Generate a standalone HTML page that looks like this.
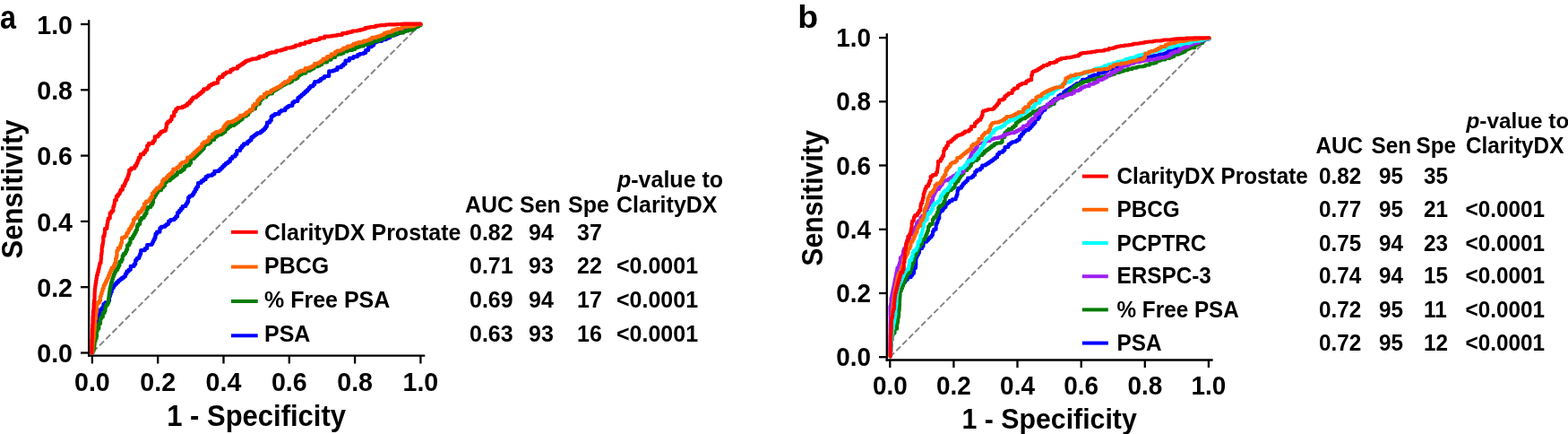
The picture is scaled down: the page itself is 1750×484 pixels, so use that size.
<!DOCTYPE html>
<html><head><meta charset="utf-8"><title>ROC curves</title>
<style>
html,body{margin:0;padding:0;background:#fff;}
svg{display:block;}
svg text{font-family:"Liberation Sans", Arial, Helvetica, sans-serif;font-weight:bold;fill:#000;}
</style></head>
<body>
<svg width="1750" height="484" viewBox="0 0 1750 484">
<rect width="1750" height="484" fill="#fff"/>
<g stroke="#000" stroke-width="2.3" fill="none">
<line x1="99.2" y1="22.2" x2="99.2" y2="397.84999999999997"/>
<line x1="98.05" y1="396.7" x2="474.3" y2="396.7"/>
<line x1="90" y1="393.5" x2="99.2" y2="393.5"/>
<line x1="102.9" y1="396.7" x2="102.9" y2="405.5"/>
<line x1="90" y1="320.2" x2="99.2" y2="320.2"/>
<line x1="176.2" y1="396.7" x2="176.2" y2="405.5"/>
<line x1="90" y1="246.9" x2="99.2" y2="246.9"/>
<line x1="249.5" y1="396.7" x2="249.5" y2="405.5"/>
<line x1="90" y1="173.6" x2="99.2" y2="173.6"/>
<line x1="322.8" y1="396.7" x2="322.8" y2="405.5"/>
<line x1="90" y1="100.3" x2="99.2" y2="100.3"/>
<line x1="396.1" y1="396.7" x2="396.1" y2="405.5"/>
<line x1="90" y1="27.0" x2="99.2" y2="27.0"/>
<line x1="469.4" y1="396.7" x2="469.4" y2="405.5"/>
</g>
<text font-size="28.6" text-anchor="end" transform="translate(81.00,404.20) scale(1.0,1.06)">0.0</text>
<text font-size="28.6" text-anchor="middle" transform="translate(102.90,436.40) scale(1.0,1.06)">0.0</text>
<text font-size="28.6" text-anchor="end" transform="translate(81.00,330.90) scale(1.0,1.06)">0.2</text>
<text font-size="28.6" text-anchor="middle" transform="translate(176.20,436.40) scale(1.0,1.06)">0.2</text>
<text font-size="28.6" text-anchor="end" transform="translate(81.00,257.60) scale(1.0,1.06)">0.4</text>
<text font-size="28.6" text-anchor="middle" transform="translate(249.50,436.40) scale(1.0,1.06)">0.4</text>
<text font-size="28.6" text-anchor="end" transform="translate(81.00,184.30) scale(1.0,1.06)">0.6</text>
<text font-size="28.6" text-anchor="middle" transform="translate(322.80,436.40) scale(1.0,1.06)">0.6</text>
<text font-size="28.6" text-anchor="end" transform="translate(81.00,111.00) scale(1.0,1.06)">0.8</text>
<text font-size="28.6" text-anchor="middle" transform="translate(396.10,436.40) scale(1.0,1.06)">0.8</text>
<text font-size="28.6" text-anchor="end" transform="translate(81.00,37.70) scale(1.0,1.06)">1.0</text>
<text font-size="28.6" text-anchor="middle" transform="translate(469.40,436.40) scale(1.0,1.06)">1.0</text>
<text font-size="31" text-anchor="middle" transform="translate(286.10,474.80) scale(1.0,1.06)">1 - Specificity</text>
<text font-size="31" text-anchor="middle" transform="translate(25.3,211) rotate(-90) scale(1,1.07)">Sensitivity</text>
<line x1="102.9" y1="393.5" x2="469.4" y2="27.0" stroke="#858585" stroke-width="2.0" stroke-dasharray="7 3.2" stroke-dashoffset="-1.3"/>
<polyline points="103.2,393.4 103.2,390.0 103.6,390.0 103.9,390.0 103.9,387.3 104.2,387.3 104.2,384.6 104.2,381.8 104.6,381.8 104.6,379.1 104.9,379.1 104.9,376.4 105.2,376.4 105.7,376.4 105.7,373.7 106.1,373.7 106.1,370.9 106.1,368.2 106.6,368.2 106.6,365.4 107.0,365.4 107.5,365.4 107.5,362.7 107.5,359.7 108.3,359.7 109.0,359.7 109.0,356.6 109.0,353.6 109.8,353.6 109.8,351.0 110.5,351.0 111.3,351.0 111.3,348.3 111.3,345.7 112.0,345.7 113.8,345.7 113.8,343.4 115.5,343.4 115.5,341.1 115.5,339.2 117.4,339.2 117.4,337.4 119.2,337.4 121.1,337.4 121.1,335.5 122.0,335.5 122.0,333.1 122.0,330.6 122.9,330.6 122.9,328.1 123.8,328.1 123.8,325.7 124.7,325.7 124.7,322.9 125.5,322.9 125.5,320.8 126.9,320.8 126.9,318.6 128.3,318.6 128.3,316.7 130.2,316.7 130.2,314.7 132.2,314.7 132.2,312.8 134.1,312.8 134.1,311.4 136.0,311.4 136.0,309.9 138.0,309.9 138.0,308.5 139.9,308.5 139.9,305.6 140.7,305.6 141.4,305.6 141.4,302.7 143.6,302.7 143.6,300.8 145.8,300.8 145.8,298.8 145.8,296.9 148.0,296.9 149.6,296.9 149.6,294.7 151.2,294.7 151.2,292.4 151.2,290.2 152.7,290.2 152.7,288.0 154.3,288.0 155.3,288.0 155.3,285.6 156.2,285.6 156.2,283.2 157.2,283.2 157.2,280.8 157.2,279.2 159.5,279.2 161.8,279.2 161.8,277.1 164.2,277.1 164.2,275.1 164.2,273.0 166.5,273.0 169.4,273.0 169.4,271.7 170.4,271.7 170.4,269.5 171.4,269.5 171.4,267.4 172.5,267.4 172.5,265.2 173.5,265.2 173.5,263.0 173.5,260.9 175.1,260.9 175.1,258.7 176.8,258.7 178.4,258.7 178.4,256.6 178.4,254.4 180.0,254.4 180.0,252.9 182.0,252.9 184.1,252.9 184.1,251.3 186.1,251.3 186.1,249.8 188.2,249.8 188.2,248.2 188.2,246.7 190.3,246.7 190.3,245.2 192.3,245.2 194.4,245.2 194.4,243.6 196.3,243.6 196.3,241.4 198.1,241.4 198.1,239.2 198.1,237.1 200.0,237.1 200.0,234.9 201.8,234.9 201.8,232.7 203.7,232.7 203.7,230.0 206.0,230.0 207.4,230.0 207.4,227.6 208.8,227.6 208.8,225.2 210.1,225.2 210.1,222.7 210.1,220.3 211.5,220.3 211.5,218.5 213.1,218.5 214.7,218.5 214.7,216.7 216.3,216.7 216.3,214.0 217.8,214.0 217.8,211.2 219.4,211.2 219.4,208.5 221.1,208.5 221.1,206.3 221.1,204.0 222.9,204.0 224.6,204.0 224.6,201.8 227.1,201.8 227.1,200.2 229.6,200.2 229.6,198.7 229.6,197.2 232.0,197.2 232.0,195.6 234.5,195.6 237.0,195.6 237.0,194.1 239.4,194.1 239.4,192.5 239.4,190.9 241.9,190.9 244.4,190.9 244.4,189.4 246.3,189.4 246.3,187.6 248.2,187.6 248.2,185.7 250.0,185.7 250.0,183.8 251.9,183.8 251.9,182.0 254.4,182.0 254.4,180.3 256.8,180.3 256.8,178.7 256.8,177.0 259.3,177.0 259.3,174.5 261.0,174.5 262.6,174.5 262.6,172.1 264.3,172.1 264.3,169.6 264.3,168.0 266.2,168.0 268.1,168.0 268.1,166.5 268.1,164.9 270.0,164.9 270.0,162.6 272.0,162.6 272.0,160.4 274.1,160.4 276.1,160.4 276.1,158.1 278.2,158.1 278.2,156.5 280.4,156.5 280.4,154.9 280.4,153.2 282.5,153.2 282.5,151.6 284.7,151.6 284.7,150.0 286.8,150.0 286.8,148.3 288.8,148.3 290.9,148.3 290.9,146.7 292.9,146.7 292.9,145.0 294.9,145.0 294.9,143.3 296.5,143.3 296.5,141.1 298.0,141.1 298.0,138.8 298.0,136.6 299.6,136.6 301.2,136.6 301.2,134.4 302.7,134.4 302.7,132.1 302.7,129.9 304.3,129.9 304.3,128.6 306.7,128.6 306.7,127.2 309.1,127.2 311.5,127.2 311.5,125.9 311.5,124.5 313.9,124.5 313.9,123.2 316.3,123.2 318.3,123.2 318.3,121.8 318.3,120.5 320.4,120.5 320.4,119.2 322.4,119.2 322.4,117.8 324.4,117.8 326.4,117.8 326.4,116.1 326.4,114.4 328.4,114.4 328.4,112.8 330.4,112.8 332.4,112.8 332.4,111.1 332.4,109.2 334.6,109.2 334.6,107.3 336.7,107.3 336.7,105.5 338.9,105.5 338.9,103.6 341.0,103.6 341.0,101.7 343.2,101.7 343.2,99.8 344.8,99.8 344.8,97.9 346.4,97.9 346.4,96.1 348.0,96.1 349.6,96.1 349.6,94.2 351.2,94.2 351.2,92.3 351.2,91.2 353.4,91.2 355.5,91.2 355.5,90.2 357.7,90.2 357.7,89.1 357.7,88.1 359.8,88.1 359.8,87.0 362.0,87.0 362.0,85.0 365.0,85.0 367.2,85.0 367.2,82.2 367.2,79.4 369.5,79.4 371.8,79.4 371.8,78.6 374.1,78.6 374.1,77.9 376.4,77.9 376.4,77.1 376.4,75.2 378.7,75.2 380.9,75.2 380.9,73.3 383.2,73.3 383.2,71.4 385.5,71.4 385.5,69.5 385.5,67.6 387.7,67.6 390.0,67.6 390.0,65.7 390.0,64.8 392.3,64.8 394.6,64.8 394.6,64.0 394.6,63.1 396.8,63.1 399.1,63.1 399.1,62.3 399.1,61.2 401.4,61.2 401.4,60.0 403.6,60.0 405.9,60.0 405.9,58.9 408.2,58.9 408.2,57.8 408.2,55.9 409.7,55.9 411.2,55.9 411.2,54.0 411.2,52.1 412.7,52.1 415.0,52.1 415.0,50.6 417.2,50.6 417.2,49.0 417.2,47.5 419.5,47.5 419.5,46.6 421.8,46.6 421.8,45.8 424.1,45.8 426.3,45.8 426.3,45.0 426.3,44.1 428.6,44.1 430.9,44.1 430.9,43.0 433.1,43.0 433.1,41.9 435.4,41.9 435.4,40.7 435.4,39.6 437.7,39.6 440.0,39.6 440.0,38.7 442.3,38.7 442.3,37.8 444.5,37.8 444.5,36.8 446.8,36.8 446.8,35.9 446.8,35.0 449.1,35.0 449.1,33.9 452.5,33.9 452.5,32.8 455.9,32.8 458.2,32.8 458.2,31.9 458.2,31.1 460.4,31.1 460.4,30.2 462.7,30.2 462.7,29.4 465.0,29.4 467.2,29.4 467.2,28.5 467.2,27.6 469.5,27.6" fill="none" stroke="#0000ff" stroke-width="4.2" stroke-linejoin="round" stroke-linecap="round"/>
<polyline points="103.6,393.4 103.6,390.9 104.2,390.9 104.7,390.9 104.7,388.4 105.3,388.4 105.3,385.9 105.3,383.4 105.8,383.4 105.8,380.9 106.4,380.9 106.4,378.0 107.0,378.0 107.5,378.0 107.5,375.2 108.0,375.2 108.0,372.4 108.0,369.5 108.6,369.5 108.6,366.7 109.4,366.7 110.3,366.7 110.3,363.9 110.3,361.0 111.2,361.0 112.0,361.0 112.0,358.2 112.0,355.9 112.9,355.9 112.9,353.6 113.8,353.6 114.8,353.6 114.8,351.4 114.8,349.1 115.7,349.1 116.6,349.1 116.6,346.8 117.5,346.8 117.5,344.5 117.5,342.3 118.4,342.3 118.4,340.0 119.3,340.0 120.2,340.0 120.2,337.8 121.1,337.8 121.1,335.5 121.1,332.9 121.5,332.9 121.5,330.2 121.8,330.2 121.8,327.6 122.2,327.6 122.2,325.0 122.6,325.0 122.6,321.9 123.3,321.9 123.3,318.8 124.0,318.8 124.0,315.7 124.7,315.7 124.7,313.3 125.4,313.3 125.4,310.9 126.2,310.9 126.2,308.5 126.9,308.5 126.9,306.0 128.0,306.0 128.0,303.4 129.1,303.4 129.1,300.9 130.1,300.9 131.2,300.9 131.2,298.4 132.3,298.4 132.3,296.2 133.4,296.2 133.4,294.0 133.4,291.9 134.5,291.9 135.6,291.9 135.6,289.7 136.7,289.7 136.7,287.5 136.7,285.4 137.8,285.4 137.8,283.2 138.8,283.2 139.9,283.2 139.9,281.0 141.0,281.0 141.0,278.5 142.1,278.5 142.1,275.9 142.1,273.4 143.1,273.4 144.2,273.4 144.2,270.9 145.5,270.9 145.5,268.5 145.5,266.1 146.7,266.1 148.0,266.1 148.0,263.7 149.3,263.7 149.3,261.3 150.6,261.3 150.6,258.9 151.9,258.9 151.9,256.5 153.0,256.5 153.0,254.3 153.0,252.2 154.1,252.2 154.1,250.0 155.1,250.0 156.2,250.0 156.2,247.8 156.2,245.4 157.7,245.4 157.7,243.0 159.1,243.0 160.6,243.0 160.6,240.6 162.0,240.6 162.0,238.2 163.5,238.2 163.5,235.8 163.5,233.4 164.9,233.4 164.9,231.0 166.6,231.0 168.3,231.0 168.3,228.5 170.0,228.5 170.0,226.1 171.0,226.1 171.0,223.0 171.0,220.3 172.7,220.3 172.7,217.7 174.3,217.7 174.3,215.0 176.0,215.0 176.0,212.2 177.9,212.2 179.9,212.2 179.9,209.3 181.9,209.3 181.9,207.3 183.9,207.3 183.9,205.3 183.9,203.3 185.9,203.3 185.9,201.3 187.9,201.3 189.9,201.3 189.9,199.3 191.9,199.3 191.9,197.8 193.9,197.8 193.9,196.3 195.8,196.3 195.8,194.9 197.8,194.9 197.8,193.4 197.8,191.9 199.8,191.9 201.8,191.9 201.8,190.4 203.8,190.4 203.8,188.9 205.7,188.9 205.7,187.4 205.7,185.9 207.7,185.9 207.7,184.4 209.7,184.4 211.4,184.4 211.4,181.9 213.0,181.9 213.0,179.5 213.0,177.0 214.7,177.0 216.6,177.0 216.6,175.1 218.4,175.1 218.4,173.3 220.3,173.3 220.3,171.4 222.1,171.4 222.1,169.6 224.0,169.6 224.0,167.7 225.9,167.7 225.9,165.8 227.7,165.8 227.7,164.0 227.7,162.1 229.6,162.1 229.6,160.6 231.4,160.6 233.3,160.6 233.3,159.0 235.2,159.0 235.2,157.4 235.2,155.9 237.0,155.9 239.1,155.9 239.1,154.4 239.1,153.0 241.1,153.0 241.1,151.6 243.2,151.6 243.2,150.1 245.3,150.1 247.3,150.1 247.3,148.6 249.4,148.6 249.4,147.2 251.4,147.2 251.4,145.7 251.4,144.2 253.4,144.2 253.4,142.8 255.3,142.8 255.3,141.3 257.3,141.3 257.3,139.8 259.3,139.8 261.6,139.8 261.6,138.1 263.9,138.1 263.9,136.4 266.1,136.4 266.1,134.6 268.4,134.6 268.4,132.9 270.7,132.9 270.7,131.2 270.7,129.6 272.9,129.6 275.0,129.6 275.0,128.0 277.2,128.0 277.2,126.4 277.2,124.8 279.3,124.8 279.3,123.2 281.5,123.2 281.5,121.4 283.2,121.4 284.9,121.4 284.9,119.5 284.9,117.7 286.5,117.7 286.5,115.8 288.2,115.8 289.9,115.8 289.9,114.0 289.9,112.1 291.5,112.1 291.5,110.2 293.2,110.2 293.2,108.4 294.9,108.4 297.1,108.4 297.1,107.1 297.1,105.7 299.4,105.7 299.4,104.4 301.6,104.4 303.8,104.4 303.8,103.1 303.8,101.7 306.1,101.7 306.1,100.4 308.3,100.4 308.3,99.1 310.5,99.1 310.5,97.7 312.8,97.7 312.8,96.3 315.0,96.3 315.0,95.0 317.2,95.0 317.2,93.7 319.5,93.7 319.5,92.3 321.7,92.3 323.8,92.3 323.8,91.0 326.0,91.0 326.0,89.6 326.0,88.3 328.1,88.3 330.3,88.3 330.3,86.9 332.4,86.9 332.4,85.6 332.4,84.3 334.6,84.3 334.6,82.9 336.9,82.9 336.9,81.6 339.1,81.6 341.4,81.6 341.4,80.3 341.4,78.9 343.6,78.9 345.9,78.9 345.9,77.6 348.1,77.6 348.1,76.5 350.4,76.5 350.4,75.4 350.4,74.2 352.6,74.2 354.8,74.2 354.8,73.1 357.1,73.1 357.1,72.0 359.3,72.0 359.3,70.9 359.3,69.5 362.1,69.5 365.0,69.5 365.0,68.0 365.0,66.6 367.3,66.6 369.6,66.6 369.6,65.3 369.6,63.9 371.8,63.9 374.1,63.9 374.1,62.6 374.1,61.2 376.4,61.2 376.4,60.3 378.7,60.3 380.9,60.3 380.9,59.4 383.2,59.4 383.2,58.4 383.2,57.5 385.4,57.5 387.7,57.5 387.7,56.6 387.7,55.8 390.6,55.8 393.4,55.8 393.4,54.9 396.2,54.9 396.2,54.1 396.2,53.2 399.1,53.2 399.1,52.3 401.4,52.3 401.4,51.4 403.7,51.4 405.9,51.4 405.9,50.5 405.9,49.6 408.2,49.6 410.5,49.6 410.5,48.7 413.3,48.7 413.3,47.7 416.1,47.7 416.1,46.8 416.1,45.8 419.0,45.8 421.8,45.8 421.8,44.8 424.1,44.8 424.1,44.0 426.4,44.0 426.4,43.2 428.6,43.2 428.6,42.3 428.6,41.5 430.9,41.5 430.9,40.7 433.2,40.7 433.2,39.9 436.0,39.9 438.9,39.9 438.9,39.0 438.9,38.1 441.7,38.1 441.7,37.3 444.5,37.3 444.5,36.6 447.4,36.6 450.2,36.6 450.2,35.8 450.2,35.1 453.0,35.1 453.0,34.4 455.9,34.4 455.9,33.4 458.2,33.4 460.4,33.4 460.4,32.5 462.7,32.5 462.7,31.5 462.7,30.5 465.0,30.5 465.0,29.4 467.2,29.4 467.2,28.2 469.5,28.2" fill="none" stroke="#037c03" stroke-width="4.2" stroke-linejoin="round" stroke-linecap="round"/>
<polyline points="103.0,393.4 103.0,391.0 103.2,391.0 103.4,391.0 103.4,388.5 103.6,388.5 103.6,386.1 103.6,383.7 103.9,383.7 103.9,381.3 104.1,381.3 104.1,378.8 104.3,378.8 104.5,378.8 104.5,376.4 104.8,376.4 104.8,373.8 104.8,371.2 105.0,371.2 105.0,368.6 105.3,368.6 105.6,368.6 105.6,366.0 105.6,363.4 105.9,363.4 106.1,363.4 106.1,360.8 106.1,358.2 106.4,358.2 106.4,355.4 106.7,355.4 107.0,355.4 107.0,352.5 107.0,349.6 107.2,349.6 107.5,349.6 107.5,346.8 108.0,346.8 108.0,343.4 108.0,340.0 108.6,340.0 108.6,337.7 109.7,337.7 110.9,337.7 110.9,335.5 112.0,335.5 112.0,333.2 112.0,330.5 112.9,330.5 112.9,327.7 113.7,327.7 113.7,325.0 114.6,325.0 114.6,321.8 115.7,321.8 115.7,318.6 116.8,318.6 116.8,316.4 117.9,316.4 117.9,314.2 118.9,314.2 118.9,312.1 120.0,312.1 120.0,309.9 121.1,309.9 121.1,307.0 122.3,307.0 122.3,304.1 123.5,304.1 123.5,301.2 124.7,301.2 124.7,298.7 125.8,298.7 126.9,298.7 126.9,296.1 128.0,296.1 128.0,293.6 129.1,293.6 129.1,291.1 129.1,288.2 129.6,288.2 130.0,288.2 130.0,285.4 130.5,285.4 130.5,282.5 130.5,279.6 131.7,279.6 131.7,276.7 132.9,276.7 134.1,276.7 134.1,273.8 135.1,273.8 135.1,270.9 136.0,270.9 136.0,268.0 136.0,265.1 137.0,265.1 139.2,265.1 139.2,263.6 141.4,263.6 141.4,262.2 141.4,259.8 142.3,259.8 143.3,259.8 143.3,257.4 144.2,257.4 144.2,255.0 146.1,255.0 146.1,252.1 147.6,252.1 147.6,249.7 149.0,249.7 149.0,247.3 149.0,244.9 150.5,244.9 150.5,243.0 151.9,243.0 153.4,243.0 153.4,241.0 153.4,239.1 154.8,239.1 154.8,236.7 156.2,236.7 157.7,236.7 157.7,234.3 159.1,234.3 159.1,231.9 161.0,231.9 161.0,229.5 161.0,227.1 163.0,227.1 163.0,224.7 164.9,224.7 166.6,224.7 166.6,222.3 168.3,222.3 168.3,219.9 170.0,219.9 170.0,217.5 170.0,215.6 171.7,215.6 171.7,213.6 173.3,213.6 173.3,211.7 175.0,211.7 175.0,209.7 176.6,209.7 178.1,209.7 178.1,207.7 179.7,207.7 179.7,205.7 181.2,205.7 181.2,203.6 181.2,201.6 182.8,201.6 182.8,199.6 184.3,199.6 185.8,199.6 185.8,197.6 187.4,197.6 187.4,195.6 189.4,195.6 189.4,193.9 191.4,193.9 191.4,192.1 193.3,192.1 193.3,190.4 193.3,188.6 195.3,188.6 197.3,188.6 197.3,186.9 199.3,186.9 199.3,185.4 201.3,185.4 201.3,183.9 201.3,182.5 203.2,182.5 203.2,181.0 205.2,181.0 207.2,181.0 207.2,179.5 209.2,179.5 209.2,177.5 209.2,175.5 211.2,175.5 213.1,175.5 213.1,173.6 215.1,173.6 215.1,171.6 217.1,171.6 217.1,169.6 219.2,169.6 219.2,167.7 221.3,167.7 221.3,165.9 223.3,165.9 223.3,164.0 225.4,164.0 225.4,162.1 225.4,160.3 227.5,160.3 227.5,158.4 229.6,158.4 231.4,158.4 231.4,156.5 233.3,156.5 233.3,154.7 233.3,152.8 235.2,152.8 237.0,152.8 237.0,150.9 237.0,149.7 239.1,149.7 239.1,148.4 241.1,148.4 241.1,147.2 243.2,147.2 245.3,147.2 245.3,146.0 247.3,146.0 247.3,144.7 249.4,144.7 249.4,143.5 249.4,141.4 251.1,141.4 251.1,139.4 252.7,139.4 252.7,137.3 254.4,137.3 254.4,136.2 256.9,136.2 259.3,136.2 259.3,135.1 261.8,135.1 261.8,134.0 263.9,134.0 263.9,132.6 265.9,132.6 265.9,131.3 268.0,131.3 268.0,129.9 268.0,128.8 270.2,128.8 272.3,128.8 272.3,127.7 274.5,127.7 274.5,126.7 274.5,125.6 276.6,125.6 276.6,124.5 278.8,124.5 278.8,122.3 280.6,122.3 282.3,122.3 282.3,120.0 282.3,117.8 284.1,117.8 284.1,115.9 285.7,115.9 287.3,115.9 287.3,114.0 287.3,112.2 289.0,112.2 289.0,110.3 290.6,110.3 290.6,108.4 292.2,108.4 294.9,108.4 294.9,106.6 294.9,104.9 297.5,104.9 297.5,103.1 300.2,103.1 302.4,103.1 302.4,102.0 302.4,100.8 304.7,100.8 304.7,99.7 306.9,99.7 306.9,98.6 309.2,98.6 309.2,97.4 311.4,97.4 311.4,96.3 313.7,96.3 313.7,94.6 315.7,94.6 315.7,92.9 317.7,92.9 317.7,91.3 319.7,91.3 321.7,91.3 321.7,89.6 323.8,89.6 323.8,88.0 323.8,86.4 326.0,86.4 328.1,86.4 328.1,84.8 330.3,84.8 330.3,83.2 330.3,81.6 332.4,81.6 332.4,80.3 335.1,80.3 335.1,78.9 337.8,78.9 340.5,78.9 340.5,77.6 340.5,76.2 343.2,76.2 345.9,76.2 345.9,74.9 348.5,74.9 348.5,73.5 351.2,73.5 351.2,72.2 351.2,70.8 353.6,70.8 355.9,70.8 355.9,69.5 358.2,69.5 358.2,68.2 360.6,68.2 360.6,66.8 360.6,65.7 362.8,65.7 365.0,65.7 365.0,64.6 365.0,63.2 367.3,63.2 369.6,63.2 369.6,61.8 369.6,60.3 371.8,60.3 374.1,60.3 374.1,58.9 374.1,57.8 376.4,57.8 376.4,56.6 378.6,56.6 380.9,56.6 380.9,55.5 383.2,55.5 383.2,54.4 383.2,53.5 385.5,53.5 387.7,53.5 387.7,52.6 387.7,51.6 390.0,51.6 392.2,51.6 392.2,50.7 394.5,50.7 394.5,49.8 394.5,48.9 397.4,48.9 397.4,48.1 400.2,48.1 400.2,47.2 403.0,47.2 405.9,47.2 405.9,46.4 405.9,45.5 408.2,45.5 410.5,45.5 410.5,44.6 412.7,44.6 412.7,43.7 415.0,43.7 415.0,42.8 415.0,41.9 417.3,41.9 420.1,41.9 420.1,40.9 423.0,40.9 423.0,40.0 425.8,40.0 425.8,39.0 428.6,39.0 428.6,38.0 428.6,37.2 430.9,37.2 430.9,36.4 433.2,36.4 433.2,35.5 435.4,35.5 437.7,35.5 437.7,34.7 437.7,33.9 440.0,33.9 440.0,33.0 442.9,33.0 442.9,32.2 445.7,32.2 448.5,32.2 448.5,31.4 448.5,30.5 451.4,30.5 451.4,29.9 454.2,29.9 454.2,29.4 457.0,29.4 459.9,29.4 459.9,28.8 462.7,28.8 462.7,28.2 462.7,27.6 466.1,27.6 466.1,27.1 469.5,27.1" fill="none" stroke="#ff6300" stroke-width="4.2" stroke-linejoin="round" stroke-linecap="round"/>
<polyline points="102.3,393.4 102.3,390.9 102.3,390.9 102.4,390.9 102.4,388.4 102.4,388.4 102.4,385.9 102.4,383.4 102.5,383.4 102.5,380.9 102.5,380.9 102.5,378.0 102.6,378.0 102.8,378.0 102.8,375.2 102.9,375.2 102.9,372.4 102.9,369.5 103.0,369.5 103.0,366.7 103.2,366.7 103.3,366.7 103.3,363.9 103.3,361.0 103.4,361.0 103.6,361.0 103.6,358.2 103.6,355.4 103.7,355.4 103.7,352.5 103.8,352.5 104.0,352.5 104.0,349.6 104.0,346.8 104.1,346.8 104.4,346.8 104.4,344.0 104.7,344.0 104.7,341.1 104.7,338.3 104.9,338.3 104.9,335.5 105.2,335.5 105.4,335.5 105.4,332.9 105.6,332.9 105.6,330.2 105.6,327.6 105.7,327.6 105.7,325.0 105.9,325.0 105.9,321.8 106.3,321.8 106.3,318.6 106.7,318.6 106.7,315.7 107.2,315.7 107.2,312.8 107.6,312.8 107.6,309.9 108.1,309.9 108.1,307.0 108.8,307.0 108.8,304.1 109.6,304.1 109.6,301.2 110.3,301.2 110.3,298.7 110.8,298.7 110.8,296.1 111.4,296.1 111.4,293.6 112.0,293.6 112.5,293.6 112.5,291.1 112.7,291.1 112.7,288.7 113.0,288.7 113.0,286.3 113.0,283.9 113.2,283.9 113.4,283.9 113.4,281.5 113.7,281.5 113.7,279.1 113.7,276.7 113.9,276.7 113.9,274.2 114.2,274.2 114.6,274.2 114.6,271.6 115.0,271.6 115.0,269.1 115.3,269.1 115.3,266.6 115.3,263.7 115.8,263.7 116.4,263.7 116.4,260.8 117.0,260.8 117.0,257.9 117.0,255.0 117.5,255.0 119.4,255.0 119.4,250.7 119.9,250.7 119.9,248.3 120.3,248.3 120.3,245.9 120.8,245.9 120.8,243.5 122.7,243.5 122.7,240.6 122.7,237.7 124.5,237.7 124.5,235.3 125.4,235.3 126.4,235.3 126.4,232.9 126.4,230.5 127.3,230.5 127.3,228.1 127.6,228.1 127.8,228.1 127.8,225.6 128.1,225.6 128.1,223.2 129.9,223.2 129.9,221.1 129.9,218.9 131.7,218.9 131.7,216.5 132.7,216.5 133.6,216.5 133.6,214.1 134.6,214.1 134.6,211.7 136.8,211.7 136.8,209.5 136.8,207.3 138.9,207.3 138.9,204.9 139.9,204.9 139.9,202.5 140.8,202.5 140.8,200.1 141.8,200.1 142.4,200.1 142.4,197.0 143.3,197.0 143.3,194.2 144.2,194.2 144.2,191.5 144.2,189.6 146.4,189.6 146.4,187.7 148.6,187.7 150.4,187.7 150.4,184.9 152.3,184.9 152.3,182.1 153.6,182.1 153.6,179.0 154.8,179.0 154.8,175.9 156.7,175.9 156.7,174.1 156.7,172.2 158.5,172.2 160.4,172.2 160.4,169.8 162.3,169.8 162.3,167.3 164.2,167.3 164.2,164.8 164.2,162.3 166.0,162.3 166.0,159.8 168.4,159.8 170.9,159.8 170.9,157.3 172.8,157.3 172.8,154.9 172.8,152.4 174.7,152.4 176.3,152.4 176.3,150.5 178.0,150.5 178.0,148.7 179.6,148.7 179.6,146.8 182.1,146.8 182.1,145.9 184.6,145.9 184.6,145.0 185.2,145.0 185.2,142.5 185.8,142.5 185.8,140.0 185.8,137.8 187.4,137.8 187.4,135.5 188.9,135.5 190.2,135.5 190.2,133.5 191.6,133.5 191.6,131.5 191.6,129.5 193.0,129.5 194.3,129.5 194.3,127.5 194.3,124.5 196.3,124.5 196.3,121.6 198.3,121.6 198.3,120.2 201.0,120.2 203.7,120.2 203.7,118.9 206.4,118.9 206.4,117.7 209.0,117.7 209.0,116.6 209.0,115.4 211.7,115.4 211.7,113.2 213.5,113.2 213.5,110.9 215.3,110.9 215.3,108.7 217.1,108.7 219.1,108.7 219.1,107.0 221.1,107.0 221.1,105.3 223.2,105.3 223.2,103.7 225.2,103.7 225.2,102.0 227.2,102.0 227.2,100.7 227.2,99.3 229.2,99.3 231.2,99.3 231.2,97.9 233.2,97.9 233.2,96.6 233.2,95.3 235.9,95.3 235.9,93.9 238.6,93.9 238.6,92.6 241.3,92.6 243.1,92.6 243.1,90.4 243.1,88.1 244.8,88.1 244.8,85.9 246.6,85.9 248.6,85.9 248.6,84.6 248.6,83.2 250.6,83.2 250.6,81.8 252.7,81.8 252.7,80.5 254.7,80.5 257.4,80.5 257.4,79.2 257.4,77.8 260.1,77.8 260.1,76.5 262.8,76.5 265.2,76.5 265.2,75.2 265.2,73.8 267.6,73.8 267.6,72.5 270.0,72.5 270.0,71.1 272.0,71.1 272.0,69.6 274.1,69.6 274.1,68.2 276.1,68.2 276.1,67.3 278.8,67.3 278.8,66.5 281.5,66.5 281.5,65.6 284.1,65.6 286.8,65.6 286.8,64.7 289.5,64.7 289.5,63.8 289.5,62.9 292.2,62.9 294.8,62.9 294.8,61.9 297.5,61.9 297.5,61.0 297.5,60.1 300.2,60.1 300.2,59.2 302.9,59.2 302.9,58.3 305.6,58.3 308.3,58.3 308.3,57.4 308.3,56.5 311.0,56.5 313.7,56.5 313.7,55.6 316.4,55.6 316.4,54.9 319.1,54.9 319.1,54.2 319.1,53.5 321.7,53.5 324.4,53.5 324.4,52.8 327.1,52.8 327.1,52.1 329.8,52.1 329.8,51.3 329.8,50.5 332.5,50.5 335.1,50.5 335.1,49.6 335.1,48.8 337.8,48.8 340.5,48.8 340.5,48.0 340.5,47.2 343.2,47.2 345.9,47.2 345.9,46.4 345.9,45.6 348.5,45.6 348.5,44.8 351.2,44.8 353.9,44.8 353.9,44.0 356.7,44.0 356.7,43.2 356.7,42.4 359.4,42.4 362.2,42.4 362.2,41.5 362.2,40.7 365.0,40.7 367.9,40.7 367.9,40.4 370.7,40.4 370.7,40.2 370.7,39.9 373.5,39.9 373.5,39.6 376.4,39.6 376.4,38.8 379.2,38.8 382.0,38.8 382.0,37.9 382.0,37.1 384.9,37.1 387.7,37.1 387.7,36.2 390.6,36.2 390.6,35.6 393.4,35.6 393.4,35.0 393.4,34.5 396.2,34.5 399.1,34.5 399.1,33.9 402.0,33.9 402.0,33.2 404.8,33.2 404.8,32.5 407.6,32.5 407.6,31.9 407.6,31.2 410.5,31.2 410.5,30.6 413.3,30.6 413.3,30.0 416.1,30.0 419.0,30.0 419.0,29.5 419.0,28.9 421.8,28.9 421.8,28.5 424.6,28.5 424.6,28.2 427.5,28.2 430.4,28.2 430.4,27.9 430.4,27.5 433.2,27.5 433.2,27.4 436.0,27.4 436.0,27.3 438.9,27.3 441.7,27.3 441.7,27.2 444.5,27.2 444.5,27.1 444.5,27.0 447.4,27.0 447.4,26.9 450.2,26.9 450.2,26.7 453.0,26.7 455.9,26.7 455.9,26.6 458.6,26.6 458.6,26.6 458.6,26.6 461.3,26.6 461.3,26.6 464.1,26.6 466.8,26.6 466.8,26.6 469.5,26.6 469.5,26.6" fill="none" stroke="#ff0000" stroke-width="4.2" stroke-linejoin="round" stroke-linecap="round"/>
<text font-size="34" text-anchor="start" transform="translate(-0.10,32.10) scale(0.95,1.1)">a</text>
<line x1="258" y1="258.8" x2="287.7" y2="258.8" stroke="#ff0000" stroke-width="4"/>
<text font-size="25" text-anchor="start" transform="translate(295.00,267.90) scale(1.0,1.04)">ClarityDX Prostate</text>
<text font-size="25" text-anchor="start" transform="translate(524.00,267.90) scale(1.0,1.04)">0.82</text>
<text font-size="25" text-anchor="start" transform="translate(590.00,267.90) scale(1.0,1.04)">94</text>
<text font-size="25" text-anchor="start" transform="translate(644.00,267.90) scale(1.0,1.04)">37</text>
<line x1="258" y1="297.6" x2="287.7" y2="297.6" stroke="#ff6300" stroke-width="4"/>
<text font-size="25" text-anchor="start" transform="translate(295.00,305.00) scale(1.0,1.04)">PBCG</text>
<text font-size="25" text-anchor="start" transform="translate(524.00,305.00) scale(1.0,1.04)">0.71</text>
<text font-size="25" text-anchor="start" transform="translate(590.00,305.00) scale(1.0,1.04)">93</text>
<text font-size="25" text-anchor="start" transform="translate(644.00,305.00) scale(1.0,1.04)">22</text>
<text font-size="25" text-anchor="start" transform="translate(688.00,305.00) scale(1.0,1.04)">&lt;0.0001</text>
<line x1="258" y1="336.0" x2="287.7" y2="336.0" stroke="#037c03" stroke-width="4"/>
<text font-size="25" text-anchor="start" transform="translate(295.00,342.50) scale(1.0,1.04)">% Free PSA</text>
<text font-size="25" text-anchor="start" transform="translate(524.00,342.50) scale(1.0,1.04)">0.69</text>
<text font-size="25" text-anchor="start" transform="translate(590.00,342.50) scale(1.0,1.04)">94</text>
<text font-size="25" text-anchor="start" transform="translate(644.00,342.50) scale(1.0,1.04)">17</text>
<text font-size="25" text-anchor="start" transform="translate(688.00,342.50) scale(1.0,1.04)">&lt;0.0001</text>
<line x1="258" y1="374.3" x2="287.7" y2="374.3" stroke="#0000ff" stroke-width="4"/>
<text font-size="25" text-anchor="start" transform="translate(295.00,380.90) scale(1.0,1.04)">PSA</text>
<text font-size="25" text-anchor="start" transform="translate(524.00,380.90) scale(1.0,1.04)">0.63</text>
<text font-size="25" text-anchor="start" transform="translate(590.00,380.90) scale(1.0,1.04)">93</text>
<text font-size="25" text-anchor="start" transform="translate(644.00,380.90) scale(1.0,1.04)">16</text>
<text font-size="25" text-anchor="start" transform="translate(688.00,380.90) scale(1.0,1.04)">&lt;0.0001</text>
<text font-size="25" text-anchor="start" transform="translate(519.00,236.50) scale(1.0,1.04)">AUC</text>
<text font-size="25" text-anchor="start" transform="translate(580.00,236.50) scale(1.0,1.04)">Sen</text>
<text font-size="25" text-anchor="start" transform="translate(634.00,236.50) scale(1.0,1.04)">Spe</text>
<text font-size="25" text-anchor="start" transform="translate(688.00,236.50) scale(1.0,1.04)">ClarityDX</text>
<text font-size="25" text-anchor="start" transform="translate(689.00,208.70) scale(1.0,1.0)"><tspan font-style="italic">p</tspan>-value to</text>
<g stroke="#000" stroke-width="2.3" fill="none">
<line x1="989.8" y1="37.3" x2="989.8" y2="402.65"/>
<line x1="988.65" y1="401.5" x2="1353.7" y2="401.5"/>
<line x1="981" y1="398.2" x2="989.8" y2="398.2"/>
<line x1="993.3" y1="401.5" x2="993.3" y2="410"/>
<line x1="981" y1="327.0" x2="989.8" y2="327.0"/>
<line x1="1064.4" y1="401.5" x2="1064.4" y2="410"/>
<line x1="981" y1="255.8" x2="989.8" y2="255.8"/>
<line x1="1135.5" y1="401.5" x2="1135.5" y2="410"/>
<line x1="981" y1="184.5" x2="989.8" y2="184.5"/>
<line x1="1206.7" y1="401.5" x2="1206.7" y2="410"/>
<line x1="981" y1="113.3" x2="989.8" y2="113.3"/>
<line x1="1277.8" y1="401.5" x2="1277.8" y2="410"/>
<line x1="981" y1="42.1" x2="989.8" y2="42.1"/>
<line x1="1348.9" y1="401.5" x2="1348.9" y2="410"/>
</g>
<text font-size="27.9" text-anchor="end" transform="translate(972.00,408.30) scale(1.0,1.06)">0.0</text>
<text font-size="27.9" text-anchor="middle" transform="translate(993.30,439.60) scale(1.0,1.06)">0.0</text>
<text font-size="27.9" text-anchor="end" transform="translate(972.00,337.10) scale(1.0,1.06)">0.2</text>
<text font-size="27.9" text-anchor="middle" transform="translate(1064.40,439.60) scale(1.0,1.06)">0.2</text>
<text font-size="27.9" text-anchor="end" transform="translate(972.00,265.90) scale(1.0,1.06)">0.4</text>
<text font-size="27.9" text-anchor="middle" transform="translate(1135.50,439.60) scale(1.0,1.06)">0.4</text>
<text font-size="27.9" text-anchor="end" transform="translate(972.00,194.60) scale(1.0,1.06)">0.6</text>
<text font-size="27.9" text-anchor="middle" transform="translate(1206.70,439.60) scale(1.0,1.06)">0.6</text>
<text font-size="27.9" text-anchor="end" transform="translate(972.00,123.40) scale(1.0,1.06)">0.8</text>
<text font-size="27.9" text-anchor="middle" transform="translate(1277.80,439.60) scale(1.0,1.06)">0.8</text>
<text font-size="27.9" text-anchor="end" transform="translate(972.00,52.20) scale(1.0,1.06)">1.0</text>
<text font-size="27.9" text-anchor="middle" transform="translate(1348.90,439.60) scale(1.0,1.06)">1.0</text>
<text font-size="30.3" text-anchor="middle" transform="translate(1171.10,477.50) scale(1.0,1.06)">1 - Specificity</text>
<text font-size="30.3" text-anchor="middle" transform="translate(917.6,221) rotate(-90) scale(1,1.07)">Sensitivity</text>
<line x1="993.3" y1="398.2" x2="1348.9" y2="42.1" stroke="#858585" stroke-width="2.0" stroke-dasharray="6.8 3.1"/>
<polyline points="993.7,397.6 993.7,395.1 993.9,395.1 994.1,395.1 994.1,392.6 994.3,392.6 994.3,390.1 994.3,387.5 994.4,387.5 994.4,385.0 994.6,385.0 994.6,382.5 994.8,382.5 995.0,382.5 995.0,380.0 995.2,380.0 995.2,377.5 995.2,375.0 995.5,375.0 995.5,372.5 995.8,372.5 996.0,372.5 996.0,370.0 996.0,367.5 996.2,367.5 996.5,367.5 996.5,365.0 996.5,362.5 996.8,362.5 996.8,360.0 997.0,360.0 997.6,360.0 997.6,357.4 997.6,354.8 998.2,354.8 998.7,354.8 998.7,352.1 999.3,352.1 999.3,349.5 999.3,346.9 999.9,346.9 999.9,345.0 1001.5,345.0 1001.6,345.0 1001.6,342.5 1001.8,342.5 1001.8,340.0 1001.8,337.5 1001.9,337.5 1001.9,335.0 1002.0,335.0 1002.0,332.5 1002.2,332.5 1002.2,330.0 1002.5,330.0 1002.5,327.5 1002.8,327.5 1002.8,325.0 1003.0,325.0 1003.0,322.4 1003.6,322.4 1003.6,319.9 1004.2,319.9 1004.2,317.3 1004.8,317.3 1004.8,315.9 1007.6,315.9 1007.6,314.4 1010.5,314.4 1010.5,311.9 1012.8,311.9 1012.8,309.3 1015.0,309.3 1016.7,309.3 1016.7,307.1 1018.4,307.1 1018.4,304.8 1020.1,304.8 1020.1,302.0 1020.1,299.1 1021.8,299.1 1022.0,299.1 1022.0,296.1 1022.3,296.1 1022.3,293.0 1022.3,290.0 1022.5,290.0 1022.5,287.1 1022.3,287.1 1023.5,287.1 1023.5,284.6 1024.8,284.6 1024.8,282.1 1026.0,282.1 1026.0,279.7 1026.0,277.2 1027.3,277.2 1029.0,277.2 1029.0,274.7 1030.6,274.7 1030.6,272.3 1030.6,269.8 1032.3,269.8 1034.2,269.8 1034.2,267.9 1036.0,267.9 1036.0,266.1 1037.8,266.1 1037.8,264.2 1039.7,264.2 1039.7,262.3 1041.0,262.3 1041.0,260.1 1041.0,257.9 1042.2,257.9 1042.2,255.8 1043.5,255.8 1044.7,255.8 1044.7,253.6 1044.7,251.1 1045.3,251.1 1045.3,248.6 1045.8,248.6 1046.4,248.6 1046.4,246.2 1047.0,246.2 1047.0,243.7 1048.3,243.7 1048.3,240.4 1048.3,237.1 1049.7,237.1 1049.7,235.0 1051.0,235.0 1052.2,235.0 1052.2,233.0 1053.5,233.0 1053.5,230.9 1055.6,230.9 1055.6,229.2 1055.6,227.6 1057.6,227.6 1057.6,225.9 1059.7,225.9 1059.7,224.1 1062.8,224.1 1062.8,222.2 1065.8,222.2 1066.8,222.2 1066.8,219.7 1067.7,219.7 1067.7,217.2 1068.6,217.2 1068.6,214.8 1068.6,212.3 1069.6,212.3 1069.6,209.8 1071.2,209.8 1072.9,209.8 1072.9,207.4 1074.5,207.4 1074.5,204.9 1076.3,204.9 1076.3,203.2 1078.2,203.2 1078.2,201.6 1080.0,201.6 1080.0,199.9 1080.0,198.6 1082.1,198.6 1084.2,198.6 1084.2,197.3 1086.2,197.3 1086.2,195.3 1088.2,195.3 1088.2,193.3 1088.2,191.4 1090.1,191.4 1090.1,189.4 1092.1,189.4 1094.1,189.4 1094.1,187.4 1096.1,187.4 1096.1,186.0 1096.1,184.6 1098.1,184.6 1100.0,184.6 1100.0,183.3 1102.0,183.3 1102.0,181.9 1104.0,181.9 1104.0,180.5 1106.3,180.5 1106.3,178.9 1108.5,178.9 1108.5,177.2 1110.8,177.2 1110.8,175.6 1113.1,175.6 1113.1,174.0 1113.1,171.9 1115.2,171.9 1115.2,169.8 1117.2,169.8 1119.3,169.8 1119.3,167.8 1121.4,167.8 1121.4,165.7 1121.4,164.1 1123.5,164.1 1125.5,164.1 1125.5,162.6 1125.5,161.1 1127.5,161.1 1127.5,159.5 1129.6,159.5 1129.6,158.2 1131.7,158.2 1133.8,158.2 1133.8,156.9 1135.8,156.9 1135.8,155.7 1137.9,155.7 1137.9,154.4 1137.9,152.0 1140.0,152.0 1140.0,149.5 1142.0,149.5 1142.0,147.1 1144.1,147.1 1144.1,145.1 1146.2,145.1 1148.2,145.1 1148.2,143.0 1150.3,143.0 1150.3,141.0 1152.0,141.0 1152.0,139.0 1153.8,139.0 1153.8,137.0 1155.5,137.0 1155.5,135.0 1155.5,133.0 1157.2,133.0 1158.8,133.0 1158.8,131.0 1160.3,131.0 1160.3,128.9 1160.3,126.9 1161.8,126.9 1161.8,124.9 1163.4,124.9 1163.4,122.8 1165.0,122.8 1166.5,122.8 1166.5,120.8 1166.5,119.0 1168.6,119.0 1168.6,117.3 1170.6,117.3 1172.7,117.3 1172.7,115.5 1172.7,113.7 1174.8,113.7 1174.8,111.9 1176.9,111.9 1176.9,110.2 1178.9,110.2 1181.0,110.2 1181.0,108.4 1181.0,106.9 1183.1,106.9 1183.1,105.5 1185.1,105.5 1187.2,105.5 1187.2,104.0 1187.2,102.6 1189.2,102.6 1189.2,101.1 1191.3,101.1 1191.3,99.8 1193.4,99.8 1193.4,98.5 1195.4,98.5 1195.4,97.3 1197.5,97.3 1197.5,96.0 1199.6,96.0 1199.6,94.5 1201.7,94.5 1201.7,92.9 1203.8,92.9 1205.8,92.9 1205.8,91.3 1207.9,91.3 1207.9,89.8 1207.9,88.8 1210.5,88.8 1213.1,88.8 1213.1,87.7 1215.6,87.7 1215.6,86.6 1215.6,85.6 1218.2,85.6 1218.2,84.6 1220.8,84.6 1220.8,83.5 1223.3,83.5 1225.9,83.5 1225.9,82.5 1225.9,81.5 1228.5,81.5 1231.0,81.5 1231.0,80.5 1233.5,80.5 1233.5,79.4 1235.9,79.4 1235.9,78.4 1235.9,77.3 1238.4,77.3 1240.9,77.3 1240.9,76.3 1243.7,76.3 1243.7,76.0 1246.4,76.0 1246.4,75.6 1246.4,75.3 1249.2,75.3 1251.7,75.3 1251.7,74.1 1251.7,72.8 1254.2,72.8 1256.6,72.8 1256.6,71.6 1256.6,70.3 1259.1,70.3 1261.6,70.3 1261.6,69.1 1261.6,68.3 1264.1,68.3 1264.1,67.5 1266.6,67.5 1269.0,67.5 1269.0,66.6 1271.5,66.6 1271.5,65.8 1271.5,65.0 1274.0,65.0 1276.5,65.0 1276.5,64.6 1276.5,64.2 1279.0,64.2 1281.4,64.2 1281.4,63.7 1283.9,63.7 1283.9,63.3 1283.9,62.9 1286.4,62.9 1286.4,62.3 1288.9,62.3 1288.9,61.7 1291.4,61.7 1293.8,61.7 1293.8,61.0 1293.8,60.4 1296.3,60.4 1298.8,60.4 1298.8,59.8 1301.3,59.8 1301.3,58.8 1303.8,58.8 1303.8,57.7 1303.8,56.7 1306.2,56.7 1308.7,56.7 1308.7,55.6 1311.2,55.6 1311.2,54.6 1313.6,54.6 1313.6,53.8 1316.0,53.8 1316.0,52.9 1316.0,52.0 1318.5,52.0 1318.5,51.2 1320.9,51.2 1320.9,50.4 1323.3,50.4 1325.7,50.4 1325.7,49.5 1325.7,48.8 1328.1,48.8 1328.1,48.1 1330.5,48.1 1330.5,47.4 1333.0,47.4 1335.4,47.4 1335.4,46.7 1335.4,46.0 1337.8,46.0 1337.8,45.3 1340.2,45.3 1340.2,44.7 1342.5,44.7 1344.8,44.7 1344.8,44.1 1347.2,44.1 1347.2,43.5 1347.2,42.9 1349.5,42.9" fill="none" stroke="#0000ff" stroke-width="4.0" stroke-linejoin="round" stroke-linecap="round"/>
<polyline points="993.7,397.6 993.7,394.9 993.9,394.9 994.0,394.9 994.0,392.3 994.2,392.3 994.2,389.6 994.2,387.0 994.4,387.0 994.4,384.3 994.6,384.3 994.6,381.7 994.7,381.7 994.9,381.7 994.9,379.0 995.7,379.0 995.7,376.5 995.7,374.1 996.6,374.1 996.6,371.6 997.4,371.6 998.6,371.6 998.6,369.1 998.6,366.7 999.9,366.7 1001.1,366.7 1001.1,364.2 1001.1,361.7 1001.5,361.7 1001.5,359.3 1001.8,359.3 1002.2,359.3 1002.2,356.8 1002.2,354.3 1002.5,354.3 1002.9,354.3 1002.9,351.8 1003.2,351.8 1003.2,349.4 1003.2,346.9 1003.6,346.9 1003.6,345.0 1003.6,345.0 1003.8,345.0 1003.8,341.8 1004.0,341.8 1004.0,338.7 1004.0,335.5 1004.2,335.5 1004.2,332.8 1004.4,332.8 1004.4,330.2 1004.6,330.2 1004.6,327.5 1004.8,327.5 1004.8,324.6 1005.9,324.6 1005.9,321.8 1007.0,321.8 1007.0,319.0 1008.1,319.0 1008.1,316.1 1009.3,316.1 1009.3,313.8 1010.1,313.8 1010.1,311.6 1011.0,311.6 1011.0,309.3 1011.9,309.3 1011.9,307.0 1012.7,307.0 1012.7,304.2 1014.4,304.2 1016.1,304.2 1016.1,301.4 1016.9,301.4 1016.9,299.1 1017.7,299.1 1017.7,296.8 1017.7,294.6 1018.4,294.6 1019.2,294.6 1019.2,292.3 1020.0,292.3 1020.0,290.0 1020.0,287.4 1020.8,287.4 1020.8,284.8 1021.5,284.8 1022.3,284.8 1022.3,282.2 1023.5,282.2 1023.5,279.7 1024.8,279.7 1024.8,277.2 1024.8,274.8 1026.0,274.8 1027.3,274.8 1027.3,272.3 1029.0,272.3 1029.0,269.8 1029.0,267.3 1030.6,267.3 1032.3,267.3 1032.3,264.8 1033.2,264.8 1033.2,262.3 1034.2,262.3 1034.2,259.9 1035.1,259.9 1035.1,257.4 1036.0,257.4 1036.0,254.9 1036.0,252.4 1037.6,252.4 1037.6,249.9 1039.3,249.9 1040.9,249.9 1040.9,247.4 1040.9,244.8 1042.2,244.8 1042.2,242.2 1043.5,242.2 1044.8,242.2 1044.8,239.6 1046.0,239.6 1046.0,236.5 1047.3,236.5 1047.3,233.4 1047.3,231.3 1048.9,231.3 1048.9,229.3 1050.6,229.3 1052.2,229.3 1052.2,227.2 1053.4,227.2 1053.4,224.7 1054.7,224.7 1054.7,222.2 1054.7,219.7 1055.9,219.7 1055.9,217.2 1057.2,217.2 1057.2,214.8 1058.4,214.8 1058.4,212.3 1059.7,212.3 1061.7,212.3 1061.7,210.6 1063.8,210.6 1063.8,209.0 1065.8,209.0 1065.8,207.3 1065.8,204.8 1067.0,204.8 1067.0,202.4 1068.3,202.4 1069.5,202.4 1069.5,199.9 1070.8,199.9 1070.8,197.4 1072.3,197.4 1072.3,195.6 1073.9,195.6 1073.9,193.7 1075.5,193.7 1075.5,191.8 1075.5,190.0 1077.0,190.0 1079.3,190.0 1079.3,187.4 1081.7,187.4 1081.7,184.9 1083.9,184.9 1083.9,182.9 1083.9,181.0 1086.1,181.0 1086.1,179.1 1088.2,179.1 1090.4,179.1 1090.4,177.1 1092.5,177.1 1092.5,175.0 1092.5,172.9 1094.5,172.9 1096.5,172.9 1096.5,170.9 1098.6,170.9 1098.6,168.8 1100.7,168.8 1100.7,167.2 1102.8,167.2 1102.8,165.7 1104.8,165.7 1104.8,164.2 1106.9,164.2 1106.9,162.6 1109.5,162.6 1109.5,161.6 1109.5,160.6 1112.1,160.6 1112.1,159.5 1114.6,159.5 1117.2,159.5 1117.2,158.5 1118.6,158.5 1118.6,155.7 1118.6,153.0 1120.0,153.0 1121.4,153.0 1121.4,150.2 1121.4,148.1 1123.5,148.1 1123.5,146.1 1125.5,146.1 1125.5,144.1 1127.5,144.1 1129.6,144.1 1129.6,142.0 1131.7,142.0 1131.7,140.3 1133.8,140.3 1133.8,138.7 1133.8,137.0 1135.8,137.0 1135.8,135.4 1137.9,135.4 1137.9,133.7 1140.0,133.7 1140.0,132.3 1142.1,132.3 1144.1,132.3 1144.1,130.8 1146.2,130.8 1146.2,129.4 1148.2,129.4 1148.2,127.9 1150.3,127.9 1150.3,126.5 1152.8,126.5 1152.8,125.3 1152.8,124.2 1155.3,124.2 1157.8,124.2 1157.8,123.0 1160.3,123.0 1160.3,121.8 1160.3,121.0 1162.8,121.0 1162.8,120.2 1165.3,120.2 1165.3,119.3 1167.7,119.3 1170.2,119.3 1170.2,118.5 1170.2,117.7 1172.7,117.7 1172.7,115.9 1174.8,115.9 1176.8,115.9 1176.8,114.1 1176.8,112.2 1178.9,112.2 1178.9,110.4 1181.0,110.4 1181.0,109.1 1183.6,109.1 1186.2,109.1 1186.2,107.8 1186.2,106.6 1188.7,106.6 1188.7,105.3 1191.3,105.3 1193.4,105.3 1193.4,103.4 1193.4,101.6 1195.5,101.6 1195.5,99.7 1197.5,99.7 1197.5,97.9 1199.6,97.9 1199.6,96.0 1201.7,96.0 1201.7,94.8 1204.2,94.8 1204.2,93.5 1206.7,93.5 1206.7,92.3 1209.1,92.3 1209.1,91.0 1211.6,91.0 1214.1,91.0 1214.1,89.8 1216.5,89.8 1216.5,89.3 1216.5,88.8 1218.9,88.8 1221.3,88.8 1221.3,88.2 1223.7,88.2 1223.7,87.7 1223.7,87.2 1226.1,87.2 1226.1,86.7 1228.5,86.7 1228.5,85.9 1231.1,85.9 1233.7,85.9 1233.7,85.2 1233.7,84.4 1236.3,84.4 1238.9,84.4 1238.9,83.6 1241.5,83.6 1241.5,82.7 1244.1,82.7 1244.1,81.8 1244.1,81.0 1246.6,81.0 1249.2,81.0 1249.2,80.1 1251.6,80.1 1251.6,79.5 1254.0,79.5 1254.0,78.8 1254.0,78.2 1256.5,78.2 1258.9,78.2 1258.9,77.6 1258.9,76.9 1261.3,76.9 1263.7,76.9 1263.7,76.3 1263.7,75.8 1266.1,75.8 1268.5,75.8 1268.5,75.3 1268.5,74.8 1271.0,74.8 1271.0,74.2 1273.4,74.2 1275.8,74.2 1275.8,73.7 1278.2,73.7 1278.2,73.2 1278.2,72.4 1280.7,72.4 1283.2,72.4 1283.2,71.6 1283.2,70.7 1285.6,70.7 1288.1,70.7 1288.1,69.9 1290.6,69.9 1290.6,69.1 1290.6,68.3 1293.1,68.3 1293.1,67.5 1295.6,67.5 1295.6,66.6 1298.0,66.6 1300.5,66.6 1300.5,65.8 1300.5,65.0 1303.0,65.0 1305.5,65.0 1305.5,64.0 1308.0,64.0 1308.0,62.9 1310.4,62.9 1310.4,61.9 1310.4,60.8 1312.9,60.8 1315.4,60.8 1315.4,59.8 1317.9,59.8 1317.9,58.8 1320.4,58.8 1320.4,57.7 1322.8,57.7 1322.8,56.7 1322.8,55.6 1325.3,55.6 1325.3,54.6 1327.8,54.6 1327.8,53.2 1330.5,53.2 1333.3,53.2 1333.3,51.9 1333.3,50.5 1336.0,50.5 1336.0,49.2 1338.1,49.2 1338.1,47.9 1340.2,47.9 1342.2,47.9 1342.2,46.6 1342.2,45.3 1344.3,45.3 1344.3,44.1 1346.9,44.1 1346.9,42.9 1349.5,42.9" fill="none" stroke="#037c03" stroke-width="4.0" stroke-linejoin="round" stroke-linecap="round"/>
<polyline points="993.2,397.0 993.2,394.4 993.2,394.4 993.2,394.4 993.2,391.8 993.2,391.8 993.2,389.2 993.2,386.6 993.2,386.6 993.2,384.0 993.2,384.0 993.2,381.5 993.2,381.5 993.3,381.5 993.3,379.1 993.3,379.1 993.3,376.6 993.3,374.1 993.4,374.1 993.4,371.6 993.4,371.6 993.5,371.6 993.5,369.1 993.5,366.7 993.5,366.7 993.5,366.7 993.5,364.2 993.5,361.7 993.6,361.7 993.6,359.2 993.6,359.2 993.7,359.2 993.7,356.8 993.7,354.3 993.7,354.3 993.6,354.3 993.6,351.2 993.5,351.2 993.5,348.1 993.5,345.0 993.4,345.0 993.4,341.8 993.8,341.8 994.1,341.8 994.1,338.7 994.5,338.7 994.5,335.5 994.5,332.6 995.1,332.6 995.1,329.8 995.6,329.8 995.6,327.0 996.2,327.0 996.2,324.1 996.8,324.1 996.8,321.2 997.4,321.2 997.4,318.4 998.0,318.4 998.0,315.6 998.5,315.6 998.5,312.7 999.1,312.7 999.1,309.9 999.7,309.9 999.7,307.0 1000.2,307.0 1000.2,304.2 1000.8,304.2 1000.8,301.4 1001.4,301.4 1001.4,298.5 1002.2,298.5 1003.1,298.5 1003.1,295.7 1003.9,295.7 1003.9,292.9 1004.8,292.9 1004.8,290.0 1004.8,287.3 1005.9,287.3 1006.9,287.3 1006.9,284.7 1008.0,284.7 1008.0,282.0 1008.0,279.7 1008.8,279.7 1008.8,277.3 1009.7,277.3 1010.5,277.3 1010.5,275.0 1011.3,275.0 1011.3,272.7 1012.2,272.7 1012.2,270.3 1012.2,268.0 1013.0,268.0 1014.2,268.0 1014.2,265.8 1015.3,265.8 1015.3,263.7 1015.3,261.5 1016.5,261.5 1017.7,261.5 1017.7,259.3 1018.8,259.3 1018.8,257.2 1020.0,257.2 1020.0,255.0 1021.5,255.0 1021.5,252.9 1023.0,252.9 1023.0,250.8 1023.0,248.7 1024.4,248.7 1024.4,246.6 1025.9,246.6 1027.4,246.6 1027.4,244.5 1027.4,242.7 1029.0,242.7 1029.0,240.8 1030.5,240.8 1032.0,240.8 1032.0,238.9 1033.6,238.9 1033.6,237.1 1034.8,237.1 1034.8,234.2 1034.8,231.3 1036.1,231.3 1036.1,228.4 1037.3,228.4 1038.6,228.4 1038.6,225.9 1039.8,225.9 1039.8,223.5 1041.1,223.5 1041.1,221.0 1041.1,218.5 1042.3,218.5 1042.3,216.0 1043.6,216.0 1043.6,213.5 1044.8,213.5 1044.8,211.0 1046.4,211.0 1048.1,211.0 1048.1,208.6 1049.7,208.6 1049.7,206.1 1051.8,206.1 1051.8,204.5 1051.8,202.8 1053.8,202.8 1053.8,201.2 1055.9,201.2 1058.4,201.2 1058.4,199.5 1060.9,199.5 1060.9,197.9 1063.4,197.9 1063.4,196.2 1065.6,196.2 1065.6,195.2 1067.8,195.2 1067.8,194.2 1067.8,193.2 1070.1,193.2 1072.3,193.2 1072.3,192.2 1074.5,192.2 1074.5,191.2 1075.8,191.2 1075.8,189.0 1075.8,186.7 1077.1,186.7 1077.1,184.5 1078.5,184.5 1079.8,184.5 1079.8,182.2 1081.1,182.2 1081.1,180.0 1081.1,177.7 1081.9,177.7 1082.7,177.7 1082.7,175.4 1083.4,175.4 1083.4,173.2 1084.2,173.2 1084.2,170.9 1085.8,170.9 1085.8,168.8 1087.5,168.8 1087.5,166.8 1089.1,166.8 1089.1,164.7 1090.8,164.7 1090.8,162.7 1090.8,160.6 1092.4,160.6 1092.4,159.8 1094.9,159.8 1097.4,159.8 1097.4,158.9 1099.8,158.9 1099.8,158.1 1099.8,157.2 1102.3,157.2 1104.8,157.2 1104.8,156.4 1104.8,155.6 1107.3,155.6 1107.3,154.8 1109.8,154.8 1109.8,153.9 1112.2,153.9 1114.7,153.9 1114.7,153.1 1117.2,153.1 1117.2,152.3 1119.7,152.3 1119.7,151.5 1119.7,150.7 1122.2,150.7 1122.2,149.8 1124.6,149.8 1124.6,149.0 1127.1,149.0 1127.1,148.2 1129.6,148.2 1132.1,148.2 1132.1,147.0 1134.6,147.0 1134.6,145.7 1137.0,145.7 1137.0,144.5 1139.5,144.5 1139.5,143.2 1142.0,143.2 1142.0,142.0 1142.0,140.5 1144.1,140.5 1146.2,140.5 1146.2,139.0 1148.2,139.0 1148.2,137.5 1148.2,136.0 1150.3,136.0 1150.3,134.1 1152.0,134.1 1152.0,132.2 1153.6,132.2 1155.3,132.2 1155.3,130.2 1155.3,128.3 1157.0,128.3 1157.0,126.4 1158.6,126.4 1160.3,126.4 1160.3,124.5 1160.3,122.9 1162.4,122.9 1162.4,121.3 1164.5,121.3 1164.5,119.7 1166.5,119.7 1168.6,119.7 1168.6,118.1 1168.6,116.5 1170.7,116.5 1170.7,115.3 1172.8,115.3 1174.8,115.3 1174.8,114.0 1174.8,112.8 1176.9,112.8 1176.9,111.5 1178.9,111.5 1178.9,110.3 1181.0,110.3 1181.0,109.3 1183.6,109.3 1183.6,108.2 1186.2,108.2 1186.2,107.2 1188.8,107.2 1188.8,106.2 1191.4,106.2 1191.4,105.0 1193.9,105.0 1196.4,105.0 1196.4,103.7 1198.8,103.7 1198.8,102.5 1198.8,101.2 1201.3,101.2 1203.8,101.2 1203.8,100.0 1206.2,100.0 1206.2,99.0 1206.2,97.9 1208.6,97.9 1208.6,96.9 1211.0,96.9 1211.0,95.9 1213.4,95.9 1215.8,95.9 1215.8,94.8 1215.8,93.8 1218.2,93.8 1220.6,93.8 1220.6,92.6 1223.0,92.6 1223.0,91.4 1225.5,91.4 1225.5,90.2 1225.5,88.9 1227.9,88.9 1230.3,88.9 1230.3,87.7 1232.7,87.7 1232.7,86.5 1235.2,86.5 1235.2,85.1 1235.2,83.6 1237.7,83.6 1240.1,83.6 1240.1,82.2 1240.1,80.7 1242.6,80.7 1245.1,80.7 1245.1,79.3 1245.1,77.8 1247.7,77.8 1250.2,77.8 1250.2,76.4 1250.2,75.0 1252.8,75.0 1252.8,73.5 1255.4,73.5 1258.0,73.5 1258.0,72.5 1260.6,72.5 1260.6,71.6 1260.6,70.7 1263.1,70.7 1265.7,70.7 1265.7,69.7 1265.7,69.3 1268.1,69.3 1270.4,69.3 1270.4,68.9 1272.8,68.9 1272.8,68.5 1272.8,68.2 1275.2,68.2 1275.2,67.8 1277.6,67.8 1277.6,67.4 1279.9,67.4 1282.3,67.4 1282.3,67.0 1282.3,66.5 1285.0,66.5 1287.8,66.5 1287.8,66.0 1290.5,66.0 1290.5,65.5 1293.3,65.5 1293.3,64.9 1293.3,64.4 1296.0,64.4 1298.8,64.4 1298.8,63.9 1301.3,63.9 1301.3,62.9 1303.8,62.9 1303.8,61.9 1306.2,61.9 1306.2,60.8 1306.2,59.8 1308.7,59.8 1308.7,58.8 1311.2,58.8 1311.2,57.6 1313.7,57.6 1316.2,57.6 1316.2,56.3 1316.2,55.1 1318.6,55.1 1318.6,53.8 1321.1,53.8 1321.1,52.6 1323.6,52.6 1326.1,52.6 1326.1,51.6 1326.1,50.5 1328.6,50.5 1328.6,49.5 1331.0,49.5 1331.0,48.4 1333.5,48.4 1336.0,48.4 1336.0,47.4 1338.7,47.4 1338.7,46.5 1338.7,45.6 1341.4,45.6 1341.4,44.7 1344.1,44.7 1344.1,43.8 1346.8,43.8 1349.5,43.8 1349.5,42.9" fill="none" stroke="#a020f0" stroke-width="4.0" stroke-linejoin="round" stroke-linecap="round"/>
<polyline points="993.5,397.0 993.5,394.6 993.7,394.6 993.9,394.6 993.9,392.2 994.1,392.2 994.1,389.8 994.1,387.4 994.3,387.4 994.3,385.0 994.5,385.0 994.5,382.4 994.8,382.4 995.0,382.4 995.0,379.7 995.3,379.7 995.3,377.1 995.3,374.5 995.6,374.5 995.6,371.8 995.8,371.8 996.1,371.8 996.1,369.2 996.1,366.7 996.5,366.7 996.9,366.7 996.9,364.2 996.9,361.8 997.4,361.8 997.4,359.3 997.8,359.3 998.2,359.3 998.2,356.8 998.2,354.3 998.6,354.3 999.0,354.3 999.0,351.2 999.4,351.2 999.4,348.1 999.4,345.0 999.8,345.0 999.8,341.8 1000.1,341.8 1000.3,341.8 1000.3,338.7 1000.6,338.7 1000.6,335.5 1000.6,332.8 1000.9,332.8 1000.9,330.2 1001.1,330.2 1001.1,327.5 1001.4,327.5 1001.4,324.8 1002.1,324.8 1002.1,322.2 1002.7,322.2 1002.7,319.5 1003.4,319.5 1003.4,316.7 1004.6,316.7 1004.6,313.9 1005.9,313.9 1005.9,311.2 1007.0,311.2 1007.0,308.6 1008.2,308.6 1008.2,305.9 1009.3,305.9 1009.3,303.3 1010.8,303.3 1010.8,300.6 1012.4,300.6 1013.9,300.6 1013.9,298.0 1014.4,298.0 1014.4,295.3 1015.0,295.3 1015.0,292.7 1015.0,290.0 1015.5,290.0 1017.4,290.0 1017.4,285.9 1018.6,285.9 1018.6,283.7 1018.6,281.4 1019.9,281.4 1019.9,279.2 1021.1,279.2 1022.4,279.2 1022.4,276.9 1023.6,276.9 1023.6,274.7 1024.5,274.7 1024.5,272.2 1024.5,269.8 1025.5,269.8 1026.4,269.8 1026.4,267.3 1027.3,267.3 1027.3,264.8 1027.3,262.3 1027.9,262.3 1028.5,262.3 1028.5,259.8 1029.2,259.8 1029.2,257.4 1029.8,257.4 1029.8,254.9 1030.4,254.9 1030.4,252.4 1031.0,252.4 1031.0,249.9 1031.0,247.4 1032.2,247.4 1032.2,244.9 1033.5,244.9 1034.8,244.9 1034.8,242.5 1034.8,240.0 1036.0,240.0 1036.0,237.7 1037.3,237.7 1038.5,237.7 1038.5,235.4 1039.8,235.4 1039.8,233.2 1041.1,233.2 1041.1,230.9 1041.1,228.7 1042.9,228.7 1042.9,226.6 1044.8,226.6 1046.7,226.6 1046.7,224.4 1048.5,224.4 1048.5,222.2 1050.0,222.2 1050.0,220.2 1050.0,218.2 1051.5,218.2 1051.5,216.3 1052.9,216.3 1052.9,214.3 1054.4,214.3 1054.4,212.3 1055.9,212.3 1057.5,212.3 1057.5,210.1 1059.0,210.1 1059.0,207.9 1060.5,207.9 1060.5,205.8 1060.5,203.6 1062.1,203.6 1062.1,201.5 1063.3,201.5 1064.6,201.5 1064.6,199.5 1065.8,199.5 1065.8,197.4 1067.5,197.4 1067.5,194.9 1069.1,194.9 1069.1,192.5 1070.8,192.5 1070.8,190.0 1070.8,188.1 1072.9,188.1 1075.0,188.1 1075.0,186.2 1077.1,186.2 1077.1,184.3 1079.2,184.3 1079.2,182.4 1079.2,180.6 1081.4,180.6 1081.4,178.7 1083.6,178.7 1085.7,178.7 1085.7,176.8 1087.9,176.8 1087.9,175.0 1087.9,172.9 1089.4,172.9 1090.9,172.9 1090.9,170.9 1092.4,170.9 1092.4,168.8 1093.8,168.8 1093.8,166.7 1095.2,166.7 1095.2,164.7 1096.6,164.7 1096.6,162.6 1097.9,162.6 1097.9,160.5 1099.3,160.5 1099.3,158.5 1099.3,156.4 1100.7,156.4 1100.7,154.3 1102.4,154.3 1104.0,154.3 1104.0,152.3 1105.7,152.3 1105.7,150.2 1105.7,148.2 1107.3,148.2 1109.0,148.2 1109.0,146.1 1109.0,144.9 1111.1,144.9 1111.1,143.6 1113.1,143.6 1113.1,142.4 1115.2,142.4 1117.2,142.4 1117.2,141.1 1119.3,141.1 1119.3,139.9 1121.4,139.9 1121.4,138.7 1121.4,137.4 1123.4,137.4 1123.4,136.2 1125.5,136.2 1125.5,134.9 1127.5,134.9 1127.5,133.7 1129.6,133.7 1131.7,133.7 1131.7,132.5 1133.8,132.5 1133.8,131.2 1135.8,131.2 1135.8,130.0 1137.9,130.0 1137.9,128.7 1140.0,128.7 1140.0,127.5 1140.0,126.3 1142.1,126.3 1144.1,126.3 1144.1,125.0 1146.2,125.0 1146.2,123.8 1146.2,122.5 1148.2,122.5 1148.2,121.3 1150.3,121.3 1150.3,119.7 1152.3,119.7 1154.3,119.7 1154.3,118.0 1154.3,116.4 1156.3,116.4 1156.3,114.8 1158.4,114.8 1160.4,114.8 1160.4,113.1 1160.4,111.5 1162.4,111.5 1162.4,110.1 1164.5,110.1 1164.5,108.7 1166.5,108.7 1168.6,108.7 1168.6,107.3 1168.6,106.0 1170.7,106.0 1170.7,104.6 1172.7,104.6 1174.8,104.6 1174.8,103.2 1174.8,101.8 1176.9,101.8 1176.9,100.3 1178.9,100.3 1178.9,98.9 1181.0,98.9 1181.0,97.5 1183.0,97.5 1183.0,96.1 1185.1,96.1 1185.1,94.7 1187.2,94.7 1187.2,93.2 1189.2,93.2 1189.2,91.8 1191.3,91.8 1193.8,91.8 1193.8,90.4 1196.3,90.4 1196.3,88.9 1196.3,87.5 1198.7,87.5 1201.2,87.5 1201.2,86.0 1203.7,86.0 1203.7,84.6 1203.7,83.6 1206.2,83.6 1206.2,82.5 1208.7,82.5 1208.7,81.5 1211.1,81.5 1213.6,81.5 1213.6,80.4 1213.6,79.4 1216.1,79.4 1218.5,79.4 1218.5,78.6 1220.8,78.6 1220.8,77.8 1223.2,77.8 1223.2,77.0 1223.2,76.3 1225.6,76.3 1228.0,76.3 1228.0,75.5 1230.3,75.5 1230.3,74.7 1232.7,74.7 1232.7,73.9 1232.7,73.2 1235.1,73.2 1237.4,73.2 1237.4,72.5 1237.4,71.8 1239.8,71.8 1242.1,71.8 1242.1,71.2 1242.1,70.5 1244.5,70.5 1246.8,70.5 1246.8,69.8 1246.8,69.1 1249.2,69.1 1249.2,68.4 1251.6,68.4 1253.9,68.4 1253.9,67.6 1256.3,67.6 1256.3,66.9 1256.3,66.1 1258.6,66.1 1261.0,66.1 1261.0,65.4 1261.0,64.6 1263.3,64.6 1265.7,64.6 1265.7,63.9 1268.1,63.9 1268.1,63.2 1268.1,62.4 1270.4,62.4 1270.4,61.7 1272.8,61.7 1272.8,61.0 1275.2,61.0 1277.6,61.0 1277.6,60.3 1277.6,59.5 1279.9,59.5 1282.3,59.5 1282.3,58.8 1284.7,58.8 1284.7,58.2 1287.0,58.2 1287.0,57.6 1287.0,57.0 1289.4,57.0 1291.7,57.0 1291.7,56.4 1294.1,56.4 1294.1,55.8 1296.4,55.8 1296.4,55.2 1298.8,55.2 1298.8,54.6 1298.8,54.0 1301.2,54.0 1301.2,53.4 1303.5,53.4 1303.5,52.8 1305.9,52.8 1308.3,52.8 1308.3,52.3 1308.3,51.7 1310.7,51.7 1310.7,51.1 1313.0,51.1 1313.0,50.5 1315.4,50.5 1317.8,50.5 1317.8,49.9 1317.8,49.3 1320.1,49.3 1320.1,48.7 1322.5,48.7 1322.5,48.2 1324.8,48.2 1327.2,48.2 1327.2,47.6 1329.5,47.6 1329.5,47.0 1329.5,46.4 1331.9,46.4 1331.9,45.9 1334.4,45.9 1334.4,45.4 1336.9,45.4 1339.4,45.4 1339.4,44.9 1342.0,44.9 1342.0,44.4 1342.0,43.9 1344.5,43.9 1344.5,43.4 1347.0,43.4 1349.5,43.4 1349.5,42.9" fill="none" stroke="#00ffff" stroke-width="4.0" stroke-linejoin="round" stroke-linecap="round"/>
<polyline points="993.5,397.6 993.5,395.1 993.6,395.1 993.7,395.1 993.7,392.6 993.8,392.6 993.8,390.1 993.8,387.6 993.9,387.6 993.9,385.1 994.0,385.1 994.0,382.5 994.0,382.5 994.1,382.5 994.1,380.0 994.2,380.0 994.2,377.5 994.2,375.0 994.3,375.0 994.3,372.5 994.4,372.5 994.5,372.5 994.5,370.0 994.5,367.5 994.6,367.5 994.8,367.5 994.8,365.0 994.8,362.5 995.0,362.5 995.0,360.0 995.1,360.0 995.2,360.0 995.2,357.5 995.2,355.0 995.4,355.0 995.5,355.0 995.5,352.5 995.7,352.5 995.7,350.0 995.7,347.5 995.9,347.5 995.9,345.0 996.0,345.0 996.4,345.0 996.4,342.5 996.8,342.5 996.8,340.0 996.8,337.5 997.1,337.5 997.1,335.0 997.5,335.0 997.5,332.5 997.9,332.5 997.9,330.0 998.2,330.0 998.2,327.5 998.6,327.5 998.6,325.0 999.0,325.0 999.0,322.5 999.5,322.5 999.5,320.0 1000.0,320.0 1000.0,317.5 1000.5,317.5 1000.5,315.0 1001.0,315.0 1001.0,312.5 1001.5,312.5 1001.5,310.0 1002.0,310.0 1002.0,307.5 1002.5,307.5 1003.0,307.5 1003.0,305.0 1004.6,305.0 1004.6,302.5 1006.2,302.5 1006.2,300.0 1006.2,297.4 1006.8,297.4 1007.5,297.4 1007.5,294.8 1008.1,294.8 1008.1,292.2 1008.1,289.6 1008.7,289.6 1008.7,287.1 1009.9,287.1 1011.2,287.1 1011.2,284.6 1012.4,284.6 1012.4,282.2 1013.6,282.2 1013.6,279.7 1013.6,277.2 1014.5,277.2 1015.5,277.2 1015.5,274.8 1016.5,274.8 1016.5,272.3 1016.5,269.8 1017.4,269.8 1018.6,269.8 1018.6,266.9 1019.9,266.9 1019.9,264.0 1021.1,264.0 1021.1,261.1 1022.3,261.1 1022.3,258.9 1023.6,258.9 1023.6,256.6 1023.6,254.4 1024.8,254.4 1024.8,252.1 1026.1,252.1 1027.3,252.1 1027.3,249.9 1027.3,247.4 1028.2,247.4 1028.2,244.9 1029.2,244.9 1030.1,244.9 1030.1,242.5 1031.0,242.5 1031.0,240.0 1031.7,240.0 1031.7,237.4 1031.7,234.8 1032.3,234.8 1032.3,232.3 1032.9,232.3 1033.6,232.3 1033.6,229.7 1034.4,229.7 1034.4,227.2 1035.3,227.2 1035.3,224.7 1035.3,222.2 1036.1,222.2 1036.1,219.7 1037.3,219.7 1037.3,217.3 1038.6,217.3 1038.6,214.8 1039.8,214.8 1041.0,214.8 1041.0,212.7 1042.3,212.7 1042.3,210.7 1043.5,210.7 1043.5,208.6 1043.5,206.5 1045.6,206.5 1045.6,204.5 1047.6,204.5 1049.7,204.5 1049.7,202.4 1051.0,202.4 1051.0,199.9 1052.2,199.9 1052.2,197.4 1053.9,197.4 1053.9,194.9 1055.5,194.9 1055.5,192.5 1055.5,190.0 1057.2,190.0 1056.9,190.0 1056.9,187.4 1058.8,187.4 1058.8,185.8 1060.6,185.8 1060.6,184.3 1060.6,182.8 1062.5,182.8 1062.5,181.2 1064.3,181.2 1066.2,181.2 1066.2,179.5 1068.2,179.5 1068.2,177.8 1068.2,176.1 1070.1,176.1 1072.0,176.1 1072.0,174.3 1074.0,174.3 1074.0,172.6 1075.9,172.6 1075.9,170.9 1078.0,170.9 1078.0,169.3 1080.1,169.3 1080.1,167.8 1082.1,167.8 1082.1,166.2 1084.2,166.2 1084.2,164.7 1084.2,162.6 1086.2,162.6 1086.2,160.6 1088.3,160.6 1090.4,160.6 1090.4,158.5 1092.4,158.5 1092.4,156.4 1092.4,154.7 1094.1,154.7 1095.9,154.7 1095.9,153.0 1095.9,151.2 1097.6,151.2 1097.6,149.5 1099.3,149.5 1099.3,147.8 1101.1,147.8 1102.8,147.8 1102.8,146.1 1104.1,146.1 1104.1,144.1 1105.3,144.1 1105.3,142.0 1105.3,139.9 1106.6,139.9 1106.6,137.9 1107.9,137.9 1107.9,137.1 1110.2,137.1 1110.2,136.4 1112.6,136.4 1114.9,136.4 1114.9,135.6 1117.2,135.6 1117.2,134.8 1119.3,134.8 1119.3,133.4 1121.3,133.4 1121.3,132.0 1123.4,132.0 1123.4,130.6 1123.4,129.9 1126.0,129.9 1128.6,129.9 1128.6,129.2 1131.2,129.2 1131.2,128.6 1131.2,127.9 1133.8,127.9 1133.8,126.4 1136.5,126.4 1136.5,124.9 1139.3,124.9 1142.0,124.9 1142.0,123.4 1142.0,121.3 1144.1,121.3 1144.1,119.3 1146.1,119.3 1148.2,119.3 1148.2,117.2 1148.2,115.4 1150.2,115.4 1150.2,113.7 1152.2,113.7 1152.2,111.9 1154.3,111.9 1156.3,111.9 1156.3,110.2 1156.3,108.4 1158.3,108.4 1158.3,107.2 1160.4,107.2 1162.4,107.2 1162.4,105.9 1162.4,104.7 1164.5,104.7 1164.5,103.4 1166.5,103.4 1166.5,102.2 1168.6,102.2 1168.6,101.2 1171.2,101.2 1171.2,100.1 1173.8,100.1 1173.8,99.0 1176.3,99.0 1176.3,98.0 1178.9,98.0 1178.9,97.3 1181.3,97.3 1183.8,97.3 1183.8,96.7 1186.2,96.7 1186.2,96.0 1186.2,93.6 1187.2,93.6 1188.3,93.6 1188.3,91.1 1189.3,91.1 1189.3,88.7 1189.3,87.2 1192.0,87.2 1192.0,85.7 1194.8,85.7 1194.8,84.2 1197.5,84.2 1200.1,84.2 1200.1,83.5 1200.1,82.8 1202.7,82.8 1205.3,82.8 1205.3,82.2 1207.9,82.2 1207.9,81.5 1210.4,81.5 1210.4,80.9 1210.4,80.3 1212.9,80.3 1215.3,80.3 1215.3,79.6 1217.8,79.6 1217.8,79.0 1220.3,79.0 1220.3,78.4 1220.3,78.1 1223.0,78.1 1225.6,78.1 1225.6,77.8 1225.6,77.5 1228.3,77.5 1230.9,77.5 1230.9,77.2 1230.9,76.9 1233.6,76.9 1236.2,76.9 1236.2,76.6 1236.2,76.3 1238.9,76.3 1238.9,74.2 1241.0,74.2 1243.0,74.2 1243.0,72.2 1245.8,72.2 1245.8,71.8 1245.8,71.4 1248.5,71.4 1251.3,71.4 1251.3,71.0 1251.3,70.5 1254.1,70.5 1256.8,70.5 1256.8,70.1 1259.6,70.1 1259.6,69.7 1259.6,69.1 1262.0,69.1 1262.0,68.5 1264.4,68.5 1264.4,67.8 1266.8,67.8 1269.2,67.8 1269.2,67.2 1269.2,66.6 1271.6,66.6 1274.0,66.6 1274.0,66.0 1276.1,66.0 1276.1,63.9 1278.2,63.9 1278.2,61.9 1278.2,59.8 1280.2,59.8 1282.3,59.8 1282.3,57.7 1284.9,57.7 1284.9,57.1 1287.4,57.1 1287.4,56.5 1290.0,56.5 1290.0,55.9 1290.0,55.3 1292.6,55.3 1292.6,53.7 1295.4,53.7 1295.4,52.1 1298.1,52.1 1300.9,52.1 1300.9,50.5 1300.9,49.7 1303.5,49.7 1303.5,49.0 1306.1,49.0 1306.1,48.2 1308.6,48.2 1311.2,48.2 1311.2,47.4 1311.2,47.0 1313.6,47.0 1313.6,46.6 1316.0,46.6 1316.0,46.1 1318.5,46.1 1320.9,46.1 1320.9,45.7 1323.3,45.7 1323.3,45.3 1323.3,44.9 1325.7,44.9 1325.7,44.6 1328.3,44.6 1328.3,44.3 1331.0,44.3 1333.6,44.3 1333.6,44.0 1336.3,44.0 1336.3,43.7 1336.3,43.4 1338.9,43.4 1338.9,43.1 1341.6,43.1 1344.2,43.1 1344.2,42.8 1346.9,42.8 1346.9,42.5 1349.5,42.5 1349.5,42.2" fill="none" stroke="#ff6300" stroke-width="4.0" stroke-linejoin="round" stroke-linecap="round"/>
<polyline points="993.7,397.6 993.7,394.9 993.8,394.9 993.8,394.9 993.8,392.3 993.9,392.3 993.9,389.6 993.9,387.0 994.0,387.0 994.0,384.3 994.1,384.3 994.1,381.7 994.1,381.7 994.2,381.7 994.2,379.0 994.3,379.0 994.3,376.5 994.3,374.1 994.4,374.1 994.4,371.6 994.4,371.6 994.5,371.6 994.5,369.1 994.5,366.7 994.6,366.7 994.7,366.7 994.7,364.2 994.7,361.7 994.7,361.7 994.7,359.3 994.8,359.3 994.9,359.3 994.9,356.8 994.9,354.4 995.4,354.4 996.0,354.4 996.0,352.1 996.5,352.1 996.5,349.7 996.5,347.4 997.1,347.4 997.1,345.0 997.6,345.0 997.9,345.0 997.9,342.5 998.2,342.5 998.2,339.9 998.2,337.4 998.5,337.4 998.5,334.9 998.7,334.9 998.7,332.3 999.0,332.3 999.0,329.8 999.3,329.8 999.3,326.9 1000.0,326.9 1000.0,324.1 1000.8,324.1 1000.8,321.2 1001.5,321.2 1001.5,318.4 1002.2,318.4 1002.2,315.5 1003.0,315.5 1003.0,312.7 1003.8,312.7 1003.8,309.9 1004.6,309.9 1004.6,307.0 1005.4,307.0 1005.4,304.0 1006.5,304.0 1007.5,304.0 1007.5,301.0 1008.6,301.0 1008.6,298.0 1008.9,298.0 1008.9,295.3 1008.9,292.7 1009.3,292.7 1009.6,292.7 1009.6,290.0 1009.7,290.0 1009.7,287.4 1009.7,284.9 1009.8,284.9 1009.8,282.3 1009.8,282.3 1009.9,282.3 1009.9,279.7 1010.5,279.7 1010.5,276.9 1011.1,276.9 1011.1,274.1 1011.1,271.3 1011.8,271.3 1012.4,271.3 1012.4,268.5 1013.3,268.5 1013.3,266.0 1013.3,263.6 1014.2,263.6 1015.2,263.6 1015.2,261.1 1016.1,261.1 1016.1,258.6 1016.6,258.6 1016.6,256.1 1017.1,256.1 1017.1,253.6 1017.6,253.6 1017.6,251.2 1017.6,248.7 1018.1,248.7 1018.1,246.2 1018.6,246.2 1019.9,246.2 1019.9,244.1 1019.9,242.1 1021.1,242.1 1021.1,240.0 1022.4,240.0 1024.1,240.0 1024.1,237.4 1025.7,237.4 1025.7,234.7 1027.4,234.7 1027.4,232.1 1027.4,229.3 1028.0,229.3 1028.0,226.6 1028.7,226.6 1029.3,226.6 1029.3,223.8 1029.9,223.8 1029.9,221.0 1030.7,221.0 1030.7,218.5 1030.7,216.0 1031.6,216.0 1031.6,213.5 1032.4,213.5 1032.4,210.6 1033.6,210.6 1033.6,207.8 1034.9,207.8 1036.1,207.8 1036.1,204.9 1037.3,204.9 1037.3,201.8 1038.6,201.8 1038.6,198.7 1038.6,196.8 1041.0,196.8 1041.0,195.0 1043.5,195.0 1044.8,195.0 1044.8,192.5 1046.0,192.5 1046.0,190.0 1046.3,190.0 1046.3,187.5 1046.7,187.5 1046.7,184.9 1047.0,184.9 1047.0,182.4 1047.0,179.7 1048.5,179.7 1050.0,179.7 1050.0,177.0 1051.6,177.0 1051.6,173.9 1053.2,173.9 1053.2,170.9 1053.2,168.1 1054.2,168.1 1054.2,165.4 1055.3,165.4 1056.3,165.4 1056.3,162.6 1058.0,162.6 1058.0,160.5 1058.0,158.5 1059.7,158.5 1061.4,158.5 1061.4,156.4 1063.5,156.4 1063.5,154.7 1065.5,154.7 1065.5,153.0 1067.6,153.0 1067.6,151.3 1069.9,151.3 1069.9,150.5 1072.2,150.5 1072.2,149.8 1074.6,149.8 1074.6,149.0 1074.6,148.2 1076.9,148.2 1076.9,146.4 1079.2,146.4 1081.6,146.4 1081.6,144.6 1083.9,144.6 1083.9,142.8 1083.9,141.0 1086.2,141.0 1088.0,141.0 1088.0,139.2 1088.0,137.3 1089.8,137.3 1089.8,135.5 1091.7,135.5 1091.7,133.7 1093.5,133.7 1094.5,133.7 1094.5,131.4 1095.5,131.4 1095.5,129.1 1096.6,129.1 1096.6,126.7 1096.6,124.4 1097.6,124.4 1097.6,123.6 1100.2,123.6 1100.2,122.8 1102.8,122.8 1102.8,122.1 1105.3,122.1 1107.9,122.1 1107.9,121.3 1109.7,121.3 1109.7,119.2 1111.6,119.2 1111.6,117.2 1113.4,117.2 1113.4,115.1 1115.2,115.1 1115.2,113.1 1115.2,111.6 1117.3,111.6 1119.3,111.6 1119.3,110.2 1121.4,110.2 1121.4,108.7 1121.4,107.3 1123.4,107.3 1123.4,105.8 1125.5,105.8 1125.5,104.0 1127.6,104.0 1129.7,104.0 1129.7,102.2 1129.7,100.4 1131.7,100.4 1131.7,98.6 1133.8,98.6 1135.8,98.6 1135.8,97.0 1135.8,95.5 1137.9,95.5 1137.9,94.3 1140.4,94.3 1140.4,93.0 1142.9,93.0 1145.3,93.0 1145.3,91.8 1145.3,90.5 1147.8,90.5 1147.8,89.3 1150.3,89.3 1151.2,89.3 1151.2,86.4 1151.2,83.4 1152.2,83.4 1152.2,80.5 1153.1,80.5 1153.1,79.5 1155.7,79.5 1155.7,78.4 1158.3,78.4 1158.3,77.1 1160.4,77.1 1160.4,75.8 1162.4,75.8 1162.4,74.4 1164.5,74.4 1164.5,73.1 1166.5,73.1 1168.6,73.1 1168.6,71.8 1171.4,71.8 1171.4,70.9 1171.4,70.0 1174.1,70.0 1176.9,70.0 1176.9,69.1 1179.5,69.1 1179.5,68.1 1179.5,67.0 1182.1,67.0 1182.1,66.0 1184.6,66.0 1184.6,65.0 1187.2,65.0 1189.6,65.0 1189.6,64.6 1189.6,64.2 1192.0,64.2 1194.5,64.2 1194.5,63.8 1196.9,63.8 1196.9,63.3 1199.3,63.3 1199.3,62.9 1199.3,62.5 1201.7,62.5 1203.8,62.5 1203.8,61.0 1205.8,61.0 1205.8,59.4 1208.3,59.4 1208.3,59.1 1208.3,58.9 1210.8,58.9 1213.2,58.9 1213.2,58.6 1213.2,58.4 1215.7,58.4 1218.2,58.4 1218.2,58.1 1218.2,57.8 1220.6,57.8 1223.0,57.8 1223.0,57.4 1223.0,57.1 1225.5,57.1 1225.5,56.8 1227.9,56.8 1230.3,56.8 1230.3,56.4 1232.7,56.4 1232.7,56.1 1232.7,55.4 1235.2,55.4 1237.7,55.4 1237.7,54.7 1237.7,54.0 1240.1,54.0 1242.6,54.0 1242.6,53.3 1245.1,53.3 1245.1,52.6 1245.1,52.2 1247.6,52.2 1247.6,51.8 1250.1,51.8 1250.1,51.3 1252.5,51.3 1255.0,51.3 1255.0,50.9 1255.0,50.5 1257.5,50.5 1260.0,50.5 1260.0,50.1 1262.5,50.1 1262.5,49.7 1264.9,49.7 1264.9,49.2 1264.9,48.8 1267.4,48.8 1269.9,48.8 1269.9,48.4 1272.3,48.4 1272.3,48.1 1274.7,48.1 1274.7,47.7 1277.2,47.7 1277.2,47.4 1277.2,47.1 1279.6,47.1 1279.6,46.7 1282.0,46.7 1282.0,46.4 1284.4,46.4 1286.8,46.4 1286.8,46.1 1286.8,45.9 1289.2,45.9 1289.2,45.6 1291.6,45.6 1291.6,45.4 1294.0,45.4 1296.4,45.4 1296.4,45.1 1296.4,44.9 1298.8,44.9 1298.8,44.6 1301.6,44.6 1301.6,44.4 1304.3,44.4 1307.1,44.4 1307.1,44.1 1309.9,44.1 1309.9,43.8 1309.9,43.6 1312.6,43.6 1312.6,43.3 1315.4,43.3 1315.4,43.1 1318.2,43.1 1320.9,43.1 1320.9,42.9 1323.7,42.9 1323.7,42.8 1323.7,42.6 1326.4,42.6 1326.4,42.4 1329.2,42.4 1331.9,42.4 1331.9,42.2 1334.4,42.2 1334.4,42.2 1336.9,42.2 1336.9,42.2 1336.9,42.2 1339.4,42.2 1342.0,42.2 1342.0,42.2 1344.5,42.2 1344.5,42.2 1344.5,42.2 1347.0,42.2 1349.5,42.2 1349.5,42.2" fill="none" stroke="#ff0000" stroke-width="4.0" stroke-linejoin="round" stroke-linecap="round"/>
<text font-size="35" text-anchor="start" transform="translate(890.20,31.40) scale(1.07,0.99)">b</text>
<line x1="1207.8" y1="196.6" x2="1236.8" y2="196.6" stroke="#ff0000" stroke-width="4"/>
<text font-size="24.3" text-anchor="start" transform="translate(1246.50,204.50) scale(1.0,1.04)">ClarityDX Prostate</text>
<text font-size="24.3" text-anchor="start" transform="translate(1472.00,204.50) scale(1.0,1.04)">0.82</text>
<text font-size="24.3" text-anchor="start" transform="translate(1539.00,204.50) scale(1.0,1.04)">95</text>
<text font-size="24.3" text-anchor="start" transform="translate(1589.00,204.50) scale(1.0,1.04)">35</text>
<line x1="1207.8" y1="233.8" x2="1236.8" y2="233.8" stroke="#ff6300" stroke-width="4"/>
<text font-size="24.3" text-anchor="start" transform="translate(1246.50,242.30) scale(1.0,1.04)">PBCG</text>
<text font-size="24.3" text-anchor="start" transform="translate(1472.00,242.30) scale(1.0,1.04)">0.77</text>
<text font-size="24.3" text-anchor="start" transform="translate(1539.00,242.30) scale(1.0,1.04)">95</text>
<text font-size="24.3" text-anchor="start" transform="translate(1589.00,242.30) scale(1.0,1.04)">21</text>
<text font-size="24.3" text-anchor="start" transform="translate(1635.50,242.30) scale(1.0,1.04)">&lt;0.0001</text>
<line x1="1207.8" y1="271.0" x2="1236.8" y2="271.0" stroke="#00ffff" stroke-width="4"/>
<text font-size="24.3" text-anchor="start" transform="translate(1246.50,279.80) scale(1.0,1.04)">PCPTRC</text>
<text font-size="24.3" text-anchor="start" transform="translate(1472.00,279.80) scale(1.0,1.04)">0.75</text>
<text font-size="24.3" text-anchor="start" transform="translate(1539.00,279.80) scale(1.0,1.04)">94</text>
<text font-size="24.3" text-anchor="start" transform="translate(1589.00,279.80) scale(1.0,1.04)">23</text>
<text font-size="24.3" text-anchor="start" transform="translate(1635.50,279.80) scale(1.0,1.04)">&lt;0.0001</text>
<line x1="1207.8" y1="308.2" x2="1236.8" y2="308.2" stroke="#a020f0" stroke-width="4"/>
<text font-size="24.3" text-anchor="start" transform="translate(1246.50,316.30) scale(1.0,1.04)">ERSPC-3</text>
<text font-size="24.3" text-anchor="start" transform="translate(1472.00,316.30) scale(1.0,1.04)">0.74</text>
<text font-size="24.3" text-anchor="start" transform="translate(1539.00,316.30) scale(1.0,1.04)">94</text>
<text font-size="24.3" text-anchor="start" transform="translate(1589.00,316.30) scale(1.0,1.04)">15</text>
<text font-size="24.3" text-anchor="start" transform="translate(1635.50,316.30) scale(1.0,1.04)">&lt;0.0001</text>
<line x1="1207.8" y1="345.4" x2="1236.8" y2="345.4" stroke="#037c03" stroke-width="4"/>
<text font-size="24.3" text-anchor="start" transform="translate(1246.50,353.60) scale(1.0,1.04)">% Free PSA</text>
<text font-size="24.3" text-anchor="start" transform="translate(1472.00,353.60) scale(1.0,1.04)">0.72</text>
<text font-size="24.3" text-anchor="start" transform="translate(1539.00,353.60) scale(1.0,1.04)">95</text>
<text font-size="24.3" text-anchor="start" transform="translate(1589.00,353.60) scale(1.0,1.04)">11</text>
<text font-size="24.3" text-anchor="start" transform="translate(1635.50,353.60) scale(1.0,1.04)">&lt;0.0001</text>
<line x1="1207.8" y1="382.6" x2="1236.8" y2="382.6" stroke="#0000ff" stroke-width="4"/>
<text font-size="24.3" text-anchor="start" transform="translate(1246.50,391.00) scale(1.0,1.04)">PSA</text>
<text font-size="24.3" text-anchor="start" transform="translate(1472.00,391.00) scale(1.0,1.04)">0.72</text>
<text font-size="24.3" text-anchor="start" transform="translate(1539.00,391.00) scale(1.0,1.04)">95</text>
<text font-size="24.3" text-anchor="start" transform="translate(1589.00,391.00) scale(1.0,1.04)">12</text>
<text font-size="24.3" text-anchor="start" transform="translate(1635.50,391.00) scale(1.0,1.04)">&lt;0.0001</text>
<text font-size="24.3" text-anchor="start" transform="translate(1468.50,171.20) scale(1.0,1.04)">AUC</text>
<text font-size="24.3" text-anchor="start" transform="translate(1530.50,171.20) scale(1.0,1.04)">Sen</text>
<text font-size="24.3" text-anchor="start" transform="translate(1580.50,171.20) scale(1.0,1.04)">Spe</text>
<text font-size="24.3" text-anchor="start" transform="translate(1636.00,171.20) scale(1.0,1.04)">ClarityDX</text>
<text font-size="24.3" text-anchor="start" transform="translate(1636.50,143.20) scale(1.0,1.0)"><tspan font-style="italic">p</tspan>-value to</text>
</svg>
</body></html>
